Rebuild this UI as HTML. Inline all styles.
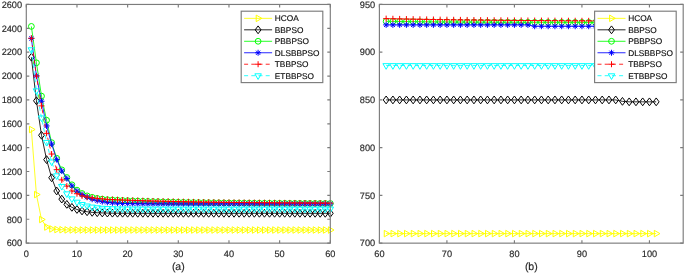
<!DOCTYPE html>
<html><head><meta charset="utf-8"><title>plot</title><style>html,body{margin:0;padding:0;background:#fff}body{width:685px;height:274px;overflow:hidden}</style></head><body>
<svg width="685" height="274" viewBox="0 0 685 274" style="display:block">
<rect width="685" height="274" fill="#fff"/>
<g font-family='"Liberation Sans", Arial, sans-serif' fill="#262626" style="text-rendering:geometricPrecision" stroke="#262626" stroke-width="0.15">
<g>
<path d="M31.37 129.53 L36.43 194.57 L41.50 219.52 L46.57 227.04 L51.63 228.95 L56.70 229.54 L61.77 229.78 L66.83 229.90 L71.90 229.96 L76.97 229.99 L82.03 230.00 L87.10 230.01 L92.17 230.01 L97.23 230.02 L102.30 230.02 L107.37 230.02 L112.43 230.02 L117.50 230.02 L122.57 230.02 L127.63 230.02 L132.70 230.02 L137.77 230.02 L142.83 230.02 L147.90 230.02 L152.97 230.02 L158.03 230.02 L163.10 230.02 L168.17 230.02 L173.23 230.02 L178.30 230.02 L183.37 230.02 L188.43 230.02 L193.50 230.02 L198.57 230.02 L203.63 230.02 L208.70 230.02 L213.77 230.02 L218.83 230.02 L223.90 230.02 L228.97 230.02 L234.03 230.02 L239.10 230.02 L244.17 230.02 L249.23 230.02 L254.30 230.02 L259.37 230.02 L264.43 230.02 L269.50 230.02 L274.57 230.02 L279.63 230.02 L284.70 230.02 L289.77 230.02 L294.83 230.02 L299.90 230.02 L304.97 230.02 L310.03 230.02 L315.10 230.02 L320.17 230.02 L325.23 230.02 L330.30 230.02" fill="none" stroke="#ffff00" stroke-width="0.85"/>
<polygon points="29.47,126.28 29.47,132.78 35.12,129.53" fill="none" stroke="#ffff00" stroke-width="1.0"/>
<polygon points="34.53,191.32 34.53,197.82 40.18,194.57" fill="none" stroke="#ffff00" stroke-width="1.0"/>
<polygon points="39.60,216.27 39.60,222.77 45.25,219.52" fill="none" stroke="#ffff00" stroke-width="1.0"/>
<polygon points="44.67,223.79 44.67,230.29 50.32,227.04" fill="none" stroke="#ffff00" stroke-width="1.0"/>
<polygon points="49.73,225.70 49.73,232.20 55.38,228.95" fill="none" stroke="#ffff00" stroke-width="1.0"/>
<polygon points="54.80,226.29 54.80,232.79 60.45,229.54" fill="none" stroke="#ffff00" stroke-width="1.0"/>
<polygon points="59.87,226.53 59.87,233.03 65.52,229.78" fill="none" stroke="#ffff00" stroke-width="1.0"/>
<polygon points="64.93,226.65 64.93,233.15 70.58,229.90" fill="none" stroke="#ffff00" stroke-width="1.0"/>
<polygon points="70.00,226.71 70.00,233.21 75.65,229.96" fill="none" stroke="#ffff00" stroke-width="1.0"/>
<polygon points="75.07,226.74 75.07,233.24 80.72,229.99" fill="none" stroke="#ffff00" stroke-width="1.0"/>
<polygon points="80.13,226.75 80.13,233.25 85.78,230.00" fill="none" stroke="#ffff00" stroke-width="1.0"/>
<polygon points="85.20,226.76 85.20,233.26 90.85,230.01" fill="none" stroke="#ffff00" stroke-width="1.0"/>
<polygon points="90.27,226.76 90.27,233.26 95.92,230.01" fill="none" stroke="#ffff00" stroke-width="1.0"/>
<polygon points="95.33,226.77 95.33,233.27 100.98,230.02" fill="none" stroke="#ffff00" stroke-width="1.0"/>
<polygon points="100.40,226.77 100.40,233.27 106.05,230.02" fill="none" stroke="#ffff00" stroke-width="1.0"/>
<polygon points="105.47,226.77 105.47,233.27 111.12,230.02" fill="none" stroke="#ffff00" stroke-width="1.0"/>
<polygon points="110.53,226.77 110.53,233.27 116.18,230.02" fill="none" stroke="#ffff00" stroke-width="1.0"/>
<polygon points="115.60,226.77 115.60,233.27 121.25,230.02" fill="none" stroke="#ffff00" stroke-width="1.0"/>
<polygon points="120.67,226.77 120.67,233.27 126.32,230.02" fill="none" stroke="#ffff00" stroke-width="1.0"/>
<polygon points="125.73,226.77 125.73,233.27 131.38,230.02" fill="none" stroke="#ffff00" stroke-width="1.0"/>
<polygon points="130.80,226.77 130.80,233.27 136.45,230.02" fill="none" stroke="#ffff00" stroke-width="1.0"/>
<polygon points="135.87,226.77 135.87,233.27 141.52,230.02" fill="none" stroke="#ffff00" stroke-width="1.0"/>
<polygon points="140.93,226.77 140.93,233.27 146.58,230.02" fill="none" stroke="#ffff00" stroke-width="1.0"/>
<polygon points="146.00,226.77 146.00,233.27 151.65,230.02" fill="none" stroke="#ffff00" stroke-width="1.0"/>
<polygon points="151.07,226.77 151.07,233.27 156.72,230.02" fill="none" stroke="#ffff00" stroke-width="1.0"/>
<polygon points="156.13,226.77 156.13,233.27 161.78,230.02" fill="none" stroke="#ffff00" stroke-width="1.0"/>
<polygon points="161.20,226.77 161.20,233.27 166.85,230.02" fill="none" stroke="#ffff00" stroke-width="1.0"/>
<polygon points="166.27,226.77 166.27,233.27 171.92,230.02" fill="none" stroke="#ffff00" stroke-width="1.0"/>
<polygon points="171.33,226.77 171.33,233.27 176.98,230.02" fill="none" stroke="#ffff00" stroke-width="1.0"/>
<polygon points="176.40,226.77 176.40,233.27 182.05,230.02" fill="none" stroke="#ffff00" stroke-width="1.0"/>
<polygon points="181.47,226.77 181.47,233.27 187.12,230.02" fill="none" stroke="#ffff00" stroke-width="1.0"/>
<polygon points="186.53,226.77 186.53,233.27 192.18,230.02" fill="none" stroke="#ffff00" stroke-width="1.0"/>
<polygon points="191.60,226.77 191.60,233.27 197.25,230.02" fill="none" stroke="#ffff00" stroke-width="1.0"/>
<polygon points="196.67,226.77 196.67,233.27 202.32,230.02" fill="none" stroke="#ffff00" stroke-width="1.0"/>
<polygon points="201.73,226.77 201.73,233.27 207.38,230.02" fill="none" stroke="#ffff00" stroke-width="1.0"/>
<polygon points="206.80,226.77 206.80,233.27 212.45,230.02" fill="none" stroke="#ffff00" stroke-width="1.0"/>
<polygon points="211.87,226.77 211.87,233.27 217.52,230.02" fill="none" stroke="#ffff00" stroke-width="1.0"/>
<polygon points="216.93,226.77 216.93,233.27 222.58,230.02" fill="none" stroke="#ffff00" stroke-width="1.0"/>
<polygon points="222.00,226.77 222.00,233.27 227.65,230.02" fill="none" stroke="#ffff00" stroke-width="1.0"/>
<polygon points="227.07,226.77 227.07,233.27 232.72,230.02" fill="none" stroke="#ffff00" stroke-width="1.0"/>
<polygon points="232.13,226.77 232.13,233.27 237.78,230.02" fill="none" stroke="#ffff00" stroke-width="1.0"/>
<polygon points="237.20,226.77 237.20,233.27 242.85,230.02" fill="none" stroke="#ffff00" stroke-width="1.0"/>
<polygon points="242.27,226.77 242.27,233.27 247.92,230.02" fill="none" stroke="#ffff00" stroke-width="1.0"/>
<polygon points="247.33,226.77 247.33,233.27 252.98,230.02" fill="none" stroke="#ffff00" stroke-width="1.0"/>
<polygon points="252.40,226.77 252.40,233.27 258.05,230.02" fill="none" stroke="#ffff00" stroke-width="1.0"/>
<polygon points="257.47,226.77 257.47,233.27 263.12,230.02" fill="none" stroke="#ffff00" stroke-width="1.0"/>
<polygon points="262.53,226.77 262.53,233.27 268.18,230.02" fill="none" stroke="#ffff00" stroke-width="1.0"/>
<polygon points="267.60,226.77 267.60,233.27 273.25,230.02" fill="none" stroke="#ffff00" stroke-width="1.0"/>
<polygon points="272.67,226.77 272.67,233.27 278.32,230.02" fill="none" stroke="#ffff00" stroke-width="1.0"/>
<polygon points="277.73,226.77 277.73,233.27 283.38,230.02" fill="none" stroke="#ffff00" stroke-width="1.0"/>
<polygon points="282.80,226.77 282.80,233.27 288.45,230.02" fill="none" stroke="#ffff00" stroke-width="1.0"/>
<polygon points="287.87,226.77 287.87,233.27 293.52,230.02" fill="none" stroke="#ffff00" stroke-width="1.0"/>
<polygon points="292.93,226.77 292.93,233.27 298.58,230.02" fill="none" stroke="#ffff00" stroke-width="1.0"/>
<polygon points="298.00,226.77 298.00,233.27 303.65,230.02" fill="none" stroke="#ffff00" stroke-width="1.0"/>
<polygon points="303.07,226.77 303.07,233.27 308.72,230.02" fill="none" stroke="#ffff00" stroke-width="1.0"/>
<polygon points="308.13,226.77 308.13,233.27 313.78,230.02" fill="none" stroke="#ffff00" stroke-width="1.0"/>
<polygon points="313.20,226.77 313.20,233.27 318.85,230.02" fill="none" stroke="#ffff00" stroke-width="1.0"/>
<polygon points="318.27,226.77 318.27,233.27 323.92,230.02" fill="none" stroke="#ffff00" stroke-width="1.0"/>
<polygon points="323.33,226.77 323.33,233.27 328.98,230.02" fill="none" stroke="#ffff00" stroke-width="1.0"/>
<polygon points="328.40,226.77 328.40,233.27 334.05,230.02" fill="none" stroke="#ffff00" stroke-width="1.0"/>
<path d="M31.37 57.20 L36.43 100.77 L41.50 135.26 L46.57 159.61 L51.63 177.75 L56.70 190.99 L61.77 199.11 L66.83 204.36 L71.90 207.34 L76.97 209.49 L82.03 210.93 L87.10 211.76 L92.17 212.36 L97.23 212.72 L102.30 212.95 L107.37 213.07 L112.43 213.19 L117.50 213.23 L122.57 213.25 L127.63 213.27 L132.70 213.28 L137.77 213.29 L142.83 213.30 L147.90 213.30 L152.97 213.31 L158.03 213.31 L163.10 213.31 L168.17 213.31 L173.23 213.31 L178.30 213.31 L183.37 213.31 L188.43 213.31 L193.50 213.31 L198.57 213.31 L203.63 213.31 L208.70 213.31 L213.77 213.31 L218.83 213.31 L223.90 213.31 L228.97 213.31 L234.03 213.31 L239.10 213.31 L244.17 213.31 L249.23 213.31 L254.30 213.31 L259.37 213.31 L264.43 213.31 L269.50 213.31 L274.57 213.31 L279.63 213.31 L284.70 213.31 L289.77 213.31 L294.83 213.31 L299.90 213.31 L304.97 213.31 L310.03 213.31 L315.10 213.31 L320.17 213.31 L325.23 213.31 L330.30 213.31" fill="none" stroke="#000000" stroke-width="0.85"/>
<polygon points="31.37,53.30 34.27,57.20 31.37,61.10 28.47,57.20" fill="none" stroke="#000000" stroke-width="1.0"/>
<polygon points="36.43,96.87 39.33,100.77 36.43,104.67 33.53,100.77" fill="none" stroke="#000000" stroke-width="1.0"/>
<polygon points="41.50,131.36 44.40,135.26 41.50,139.16 38.60,135.26" fill="none" stroke="#000000" stroke-width="1.0"/>
<polygon points="46.57,155.71 49.47,159.61 46.57,163.51 43.67,159.61" fill="none" stroke="#000000" stroke-width="1.0"/>
<polygon points="51.63,173.85 54.53,177.75 51.63,181.65 48.73,177.75" fill="none" stroke="#000000" stroke-width="1.0"/>
<polygon points="56.70,187.09 59.60,190.99 56.70,194.89 53.80,190.99" fill="none" stroke="#000000" stroke-width="1.0"/>
<polygon points="61.77,195.21 64.67,199.11 61.77,203.01 58.87,199.11" fill="none" stroke="#000000" stroke-width="1.0"/>
<polygon points="66.83,200.46 69.73,204.36 66.83,208.26 63.93,204.36" fill="none" stroke="#000000" stroke-width="1.0"/>
<polygon points="71.90,203.44 74.80,207.34 71.90,211.25 69.00,207.34" fill="none" stroke="#000000" stroke-width="1.0"/>
<polygon points="76.97,205.59 79.87,209.49 76.97,213.39 74.07,209.49" fill="none" stroke="#000000" stroke-width="1.0"/>
<polygon points="82.03,207.03 84.93,210.93 82.03,214.83 79.13,210.93" fill="none" stroke="#000000" stroke-width="1.0"/>
<polygon points="87.10,207.86 90.00,211.76 87.10,215.66 84.20,211.76" fill="none" stroke="#000000" stroke-width="1.0"/>
<polygon points="92.17,208.46 95.07,212.36 92.17,216.26 89.27,212.36" fill="none" stroke="#000000" stroke-width="1.0"/>
<polygon points="97.23,208.82 100.13,212.72 97.23,216.62 94.33,212.72" fill="none" stroke="#000000" stroke-width="1.0"/>
<polygon points="102.30,209.05 105.20,212.95 102.30,216.85 99.40,212.95" fill="none" stroke="#000000" stroke-width="1.0"/>
<polygon points="107.37,209.17 110.27,213.07 107.37,216.97 104.47,213.07" fill="none" stroke="#000000" stroke-width="1.0"/>
<polygon points="112.43,209.29 115.33,213.19 112.43,217.09 109.53,213.19" fill="none" stroke="#000000" stroke-width="1.0"/>
<polygon points="117.50,209.33 120.40,213.23 117.50,217.13 114.60,213.23" fill="none" stroke="#000000" stroke-width="1.0"/>
<polygon points="122.57,209.35 125.47,213.25 122.57,217.15 119.67,213.25" fill="none" stroke="#000000" stroke-width="1.0"/>
<polygon points="127.63,209.37 130.53,213.27 127.63,217.17 124.73,213.27" fill="none" stroke="#000000" stroke-width="1.0"/>
<polygon points="132.70,209.38 135.60,213.28 132.70,217.18 129.80,213.28" fill="none" stroke="#000000" stroke-width="1.0"/>
<polygon points="137.77,209.39 140.67,213.29 137.77,217.19 134.87,213.29" fill="none" stroke="#000000" stroke-width="1.0"/>
<polygon points="142.83,209.40 145.73,213.30 142.83,217.20 139.93,213.30" fill="none" stroke="#000000" stroke-width="1.0"/>
<polygon points="147.90,209.40 150.80,213.30 147.90,217.20 145.00,213.30" fill="none" stroke="#000000" stroke-width="1.0"/>
<polygon points="152.97,209.41 155.87,213.31 152.97,217.21 150.07,213.31" fill="none" stroke="#000000" stroke-width="1.0"/>
<polygon points="158.03,209.41 160.93,213.31 158.03,217.21 155.13,213.31" fill="none" stroke="#000000" stroke-width="1.0"/>
<polygon points="163.10,209.41 166.00,213.31 163.10,217.21 160.20,213.31" fill="none" stroke="#000000" stroke-width="1.0"/>
<polygon points="168.17,209.41 171.07,213.31 168.17,217.21 165.27,213.31" fill="none" stroke="#000000" stroke-width="1.0"/>
<polygon points="173.23,209.41 176.13,213.31 173.23,217.21 170.33,213.31" fill="none" stroke="#000000" stroke-width="1.0"/>
<polygon points="178.30,209.41 181.20,213.31 178.30,217.21 175.40,213.31" fill="none" stroke="#000000" stroke-width="1.0"/>
<polygon points="183.37,209.41 186.27,213.31 183.37,217.21 180.47,213.31" fill="none" stroke="#000000" stroke-width="1.0"/>
<polygon points="188.43,209.41 191.33,213.31 188.43,217.21 185.53,213.31" fill="none" stroke="#000000" stroke-width="1.0"/>
<polygon points="193.50,209.41 196.40,213.31 193.50,217.21 190.60,213.31" fill="none" stroke="#000000" stroke-width="1.0"/>
<polygon points="198.57,209.41 201.47,213.31 198.57,217.21 195.67,213.31" fill="none" stroke="#000000" stroke-width="1.0"/>
<polygon points="203.63,209.41 206.53,213.31 203.63,217.21 200.73,213.31" fill="none" stroke="#000000" stroke-width="1.0"/>
<polygon points="208.70,209.41 211.60,213.31 208.70,217.21 205.80,213.31" fill="none" stroke="#000000" stroke-width="1.0"/>
<polygon points="213.77,209.41 216.67,213.31 213.77,217.21 210.87,213.31" fill="none" stroke="#000000" stroke-width="1.0"/>
<polygon points="218.83,209.41 221.73,213.31 218.83,217.21 215.93,213.31" fill="none" stroke="#000000" stroke-width="1.0"/>
<polygon points="223.90,209.41 226.80,213.31 223.90,217.21 221.00,213.31" fill="none" stroke="#000000" stroke-width="1.0"/>
<polygon points="228.97,209.41 231.87,213.31 228.97,217.21 226.07,213.31" fill="none" stroke="#000000" stroke-width="1.0"/>
<polygon points="234.03,209.41 236.93,213.31 234.03,217.21 231.13,213.31" fill="none" stroke="#000000" stroke-width="1.0"/>
<polygon points="239.10,209.41 242.00,213.31 239.10,217.21 236.20,213.31" fill="none" stroke="#000000" stroke-width="1.0"/>
<polygon points="244.17,209.41 247.07,213.31 244.17,217.21 241.27,213.31" fill="none" stroke="#000000" stroke-width="1.0"/>
<polygon points="249.23,209.41 252.13,213.31 249.23,217.21 246.33,213.31" fill="none" stroke="#000000" stroke-width="1.0"/>
<polygon points="254.30,209.41 257.20,213.31 254.30,217.21 251.40,213.31" fill="none" stroke="#000000" stroke-width="1.0"/>
<polygon points="259.37,209.41 262.27,213.31 259.37,217.21 256.47,213.31" fill="none" stroke="#000000" stroke-width="1.0"/>
<polygon points="264.43,209.41 267.33,213.31 264.43,217.21 261.53,213.31" fill="none" stroke="#000000" stroke-width="1.0"/>
<polygon points="269.50,209.41 272.40,213.31 269.50,217.21 266.60,213.31" fill="none" stroke="#000000" stroke-width="1.0"/>
<polygon points="274.57,209.41 277.47,213.31 274.57,217.21 271.67,213.31" fill="none" stroke="#000000" stroke-width="1.0"/>
<polygon points="279.63,209.41 282.53,213.31 279.63,217.21 276.73,213.31" fill="none" stroke="#000000" stroke-width="1.0"/>
<polygon points="284.70,209.41 287.60,213.31 284.70,217.21 281.80,213.31" fill="none" stroke="#000000" stroke-width="1.0"/>
<polygon points="289.77,209.41 292.67,213.31 289.77,217.21 286.87,213.31" fill="none" stroke="#000000" stroke-width="1.0"/>
<polygon points="294.83,209.41 297.73,213.31 294.83,217.21 291.93,213.31" fill="none" stroke="#000000" stroke-width="1.0"/>
<polygon points="299.90,209.41 302.80,213.31 299.90,217.21 297.00,213.31" fill="none" stroke="#000000" stroke-width="1.0"/>
<polygon points="304.97,209.41 307.87,213.31 304.97,217.21 302.07,213.31" fill="none" stroke="#000000" stroke-width="1.0"/>
<polygon points="310.03,209.41 312.93,213.31 310.03,217.21 307.13,213.31" fill="none" stroke="#000000" stroke-width="1.0"/>
<polygon points="315.10,209.41 318.00,213.31 315.10,217.21 312.20,213.31" fill="none" stroke="#000000" stroke-width="1.0"/>
<polygon points="320.17,209.41 323.07,213.31 320.17,217.21 317.27,213.31" fill="none" stroke="#000000" stroke-width="1.0"/>
<polygon points="325.23,209.41 328.13,213.31 325.23,217.21 322.33,213.31" fill="none" stroke="#000000" stroke-width="1.0"/>
<polygon points="330.30,209.41 333.20,213.31 330.30,217.21 327.40,213.31" fill="none" stroke="#000000" stroke-width="1.0"/>
<path d="M31.37 26.41 L36.43 62.81 L41.50 96.11 L46.57 120.22 L51.63 142.66 L56.70 158.29 L61.77 169.87 L66.83 177.51 L71.90 184.79 L76.97 190.16 L82.03 193.50 L87.10 195.89 L92.17 197.32 L97.23 198.39 L102.30 199.11 L107.37 199.71 L112.43 199.98 L117.50 200.23 L122.57 200.47 L127.63 200.69 L132.70 200.89 L137.77 201.08 L142.83 201.26 L147.90 201.42 L152.97 201.57 L158.03 201.72 L163.10 201.85 L168.17 201.97 L173.23 202.09 L178.30 202.20 L183.37 202.30 L188.43 202.39 L193.50 202.48 L198.57 202.56 L203.63 202.63 L208.70 202.70 L213.77 202.77 L218.83 202.83 L223.90 202.88 L228.97 202.94 L234.03 202.98 L239.10 203.03 L244.17 203.07 L249.23 203.11 L254.30 203.15 L259.37 203.18 L264.43 203.21 L269.50 203.24 L274.57 203.27 L279.63 203.30 L284.70 203.32 L289.77 203.34 L294.83 203.36 L299.90 203.38 L304.97 203.40 L310.03 203.42 L315.10 203.43 L320.17 203.45 L325.23 203.46 L330.30 203.48" fill="none" stroke="#00ff00" stroke-width="0.85"/>
<circle cx="31.37" cy="26.41" r="2.9" fill="none" stroke="#00ff00" stroke-width="1.0"/>
<circle cx="36.43" cy="62.81" r="2.9" fill="none" stroke="#00ff00" stroke-width="1.0"/>
<circle cx="41.50" cy="96.11" r="2.9" fill="none" stroke="#00ff00" stroke-width="1.0"/>
<circle cx="46.57" cy="120.22" r="2.9" fill="none" stroke="#00ff00" stroke-width="1.0"/>
<circle cx="51.63" cy="142.66" r="2.9" fill="none" stroke="#00ff00" stroke-width="1.0"/>
<circle cx="56.70" cy="158.29" r="2.9" fill="none" stroke="#00ff00" stroke-width="1.0"/>
<circle cx="61.77" cy="169.87" r="2.9" fill="none" stroke="#00ff00" stroke-width="1.0"/>
<circle cx="66.83" cy="177.51" r="2.9" fill="none" stroke="#00ff00" stroke-width="1.0"/>
<circle cx="71.90" cy="184.79" r="2.9" fill="none" stroke="#00ff00" stroke-width="1.0"/>
<circle cx="76.97" cy="190.16" r="2.9" fill="none" stroke="#00ff00" stroke-width="1.0"/>
<circle cx="82.03" cy="193.50" r="2.9" fill="none" stroke="#00ff00" stroke-width="1.0"/>
<circle cx="87.10" cy="195.89" r="2.9" fill="none" stroke="#00ff00" stroke-width="1.0"/>
<circle cx="92.17" cy="197.32" r="2.9" fill="none" stroke="#00ff00" stroke-width="1.0"/>
<circle cx="97.23" cy="198.39" r="2.9" fill="none" stroke="#00ff00" stroke-width="1.0"/>
<circle cx="102.30" cy="199.11" r="2.9" fill="none" stroke="#00ff00" stroke-width="1.0"/>
<circle cx="107.37" cy="199.71" r="2.9" fill="none" stroke="#00ff00" stroke-width="1.0"/>
<circle cx="112.43" cy="199.98" r="2.9" fill="none" stroke="#00ff00" stroke-width="1.0"/>
<circle cx="117.50" cy="200.23" r="2.9" fill="none" stroke="#00ff00" stroke-width="1.0"/>
<circle cx="122.57" cy="200.47" r="2.9" fill="none" stroke="#00ff00" stroke-width="1.0"/>
<circle cx="127.63" cy="200.69" r="2.9" fill="none" stroke="#00ff00" stroke-width="1.0"/>
<circle cx="132.70" cy="200.89" r="2.9" fill="none" stroke="#00ff00" stroke-width="1.0"/>
<circle cx="137.77" cy="201.08" r="2.9" fill="none" stroke="#00ff00" stroke-width="1.0"/>
<circle cx="142.83" cy="201.26" r="2.9" fill="none" stroke="#00ff00" stroke-width="1.0"/>
<circle cx="147.90" cy="201.42" r="2.9" fill="none" stroke="#00ff00" stroke-width="1.0"/>
<circle cx="152.97" cy="201.57" r="2.9" fill="none" stroke="#00ff00" stroke-width="1.0"/>
<circle cx="158.03" cy="201.72" r="2.9" fill="none" stroke="#00ff00" stroke-width="1.0"/>
<circle cx="163.10" cy="201.85" r="2.9" fill="none" stroke="#00ff00" stroke-width="1.0"/>
<circle cx="168.17" cy="201.97" r="2.9" fill="none" stroke="#00ff00" stroke-width="1.0"/>
<circle cx="173.23" cy="202.09" r="2.9" fill="none" stroke="#00ff00" stroke-width="1.0"/>
<circle cx="178.30" cy="202.20" r="2.9" fill="none" stroke="#00ff00" stroke-width="1.0"/>
<circle cx="183.37" cy="202.30" r="2.9" fill="none" stroke="#00ff00" stroke-width="1.0"/>
<circle cx="188.43" cy="202.39" r="2.9" fill="none" stroke="#00ff00" stroke-width="1.0"/>
<circle cx="193.50" cy="202.48" r="2.9" fill="none" stroke="#00ff00" stroke-width="1.0"/>
<circle cx="198.57" cy="202.56" r="2.9" fill="none" stroke="#00ff00" stroke-width="1.0"/>
<circle cx="203.63" cy="202.63" r="2.9" fill="none" stroke="#00ff00" stroke-width="1.0"/>
<circle cx="208.70" cy="202.70" r="2.9" fill="none" stroke="#00ff00" stroke-width="1.0"/>
<circle cx="213.77" cy="202.77" r="2.9" fill="none" stroke="#00ff00" stroke-width="1.0"/>
<circle cx="218.83" cy="202.83" r="2.9" fill="none" stroke="#00ff00" stroke-width="1.0"/>
<circle cx="223.90" cy="202.88" r="2.9" fill="none" stroke="#00ff00" stroke-width="1.0"/>
<circle cx="228.97" cy="202.94" r="2.9" fill="none" stroke="#00ff00" stroke-width="1.0"/>
<circle cx="234.03" cy="202.98" r="2.9" fill="none" stroke="#00ff00" stroke-width="1.0"/>
<circle cx="239.10" cy="203.03" r="2.9" fill="none" stroke="#00ff00" stroke-width="1.0"/>
<circle cx="244.17" cy="203.07" r="2.9" fill="none" stroke="#00ff00" stroke-width="1.0"/>
<circle cx="249.23" cy="203.11" r="2.9" fill="none" stroke="#00ff00" stroke-width="1.0"/>
<circle cx="254.30" cy="203.15" r="2.9" fill="none" stroke="#00ff00" stroke-width="1.0"/>
<circle cx="259.37" cy="203.18" r="2.9" fill="none" stroke="#00ff00" stroke-width="1.0"/>
<circle cx="264.43" cy="203.21" r="2.9" fill="none" stroke="#00ff00" stroke-width="1.0"/>
<circle cx="269.50" cy="203.24" r="2.9" fill="none" stroke="#00ff00" stroke-width="1.0"/>
<circle cx="274.57" cy="203.27" r="2.9" fill="none" stroke="#00ff00" stroke-width="1.0"/>
<circle cx="279.63" cy="203.30" r="2.9" fill="none" stroke="#00ff00" stroke-width="1.0"/>
<circle cx="284.70" cy="203.32" r="2.9" fill="none" stroke="#00ff00" stroke-width="1.0"/>
<circle cx="289.77" cy="203.34" r="2.9" fill="none" stroke="#00ff00" stroke-width="1.0"/>
<circle cx="294.83" cy="203.36" r="2.9" fill="none" stroke="#00ff00" stroke-width="1.0"/>
<circle cx="299.90" cy="203.38" r="2.9" fill="none" stroke="#00ff00" stroke-width="1.0"/>
<circle cx="304.97" cy="203.40" r="2.9" fill="none" stroke="#00ff00" stroke-width="1.0"/>
<circle cx="310.03" cy="203.42" r="2.9" fill="none" stroke="#00ff00" stroke-width="1.0"/>
<circle cx="315.10" cy="203.43" r="2.9" fill="none" stroke="#00ff00" stroke-width="1.0"/>
<circle cx="320.17" cy="203.45" r="2.9" fill="none" stroke="#00ff00" stroke-width="1.0"/>
<circle cx="325.23" cy="203.46" r="2.9" fill="none" stroke="#00ff00" stroke-width="1.0"/>
<circle cx="330.30" cy="203.48" r="2.9" fill="none" stroke="#00ff00" stroke-width="1.0"/>
<path d="M31.37 38.46 L36.43 75.82 L41.50 101.24 L46.57 125.95 L51.63 144.09 L56.70 159.61 L61.77 171.06 L66.83 178.58 L71.90 185.86 L76.97 191.23 L82.03 194.57 L87.10 197.20 L92.17 199.23 L97.23 200.66 L102.30 201.62 L107.37 202.33 L112.43 202.81 L117.50 203.17 L122.57 203.41 L127.63 203.53 L132.70 203.61 L137.77 203.67 L142.83 203.72 L147.90 203.77 L152.97 203.80 L158.03 203.83 L163.10 203.85 L168.17 203.86 L173.23 203.88 L178.30 203.89 L183.37 203.90 L188.43 203.90 L193.50 203.91 L198.57 203.91 L203.63 203.92 L208.70 203.92 L213.77 203.92 L218.83 203.92 L223.90 203.93 L228.97 203.93 L234.03 203.93 L239.10 203.93 L244.17 203.93 L249.23 203.93 L254.30 203.93 L259.37 203.93 L264.43 203.93 L269.50 203.93 L274.57 203.93 L279.63 203.93 L284.70 203.93 L289.77 203.93 L294.83 203.93 L299.90 203.93 L304.97 203.93 L310.03 203.93 L315.10 203.93 L320.17 203.93 L325.23 203.93 L330.30 203.93" fill="none" stroke="#0000ff" stroke-width="0.85"/>
<path d="M28.37 38.46H34.37M31.37 35.46V41.46M29.27 36.36L33.47 40.56M29.27 40.56L33.47 36.36" fill="none" stroke="#0000ff" stroke-width="1.0"/>
<path d="M33.43 75.82H39.43M36.43 72.82V78.82M34.33 73.72L38.53 77.92M34.33 77.92L38.53 73.72" fill="none" stroke="#0000ff" stroke-width="1.0"/>
<path d="M38.50 101.24H44.50M41.50 98.24V104.24M39.40 99.14L43.60 103.34M39.40 103.34L43.60 99.14" fill="none" stroke="#0000ff" stroke-width="1.0"/>
<path d="M43.57 125.95H49.57M46.57 122.95V128.95M44.47 123.85L48.67 128.05M44.47 128.05L48.67 123.85" fill="none" stroke="#0000ff" stroke-width="1.0"/>
<path d="M48.63 144.09H54.63M51.63 141.09V147.09M49.53 141.99L53.73 146.19M49.53 146.19L53.73 141.99" fill="none" stroke="#0000ff" stroke-width="1.0"/>
<path d="M53.70 159.61H59.70M56.70 156.61V162.61M54.60 157.51L58.80 161.71M54.60 161.71L58.80 157.51" fill="none" stroke="#0000ff" stroke-width="1.0"/>
<path d="M58.77 171.06H64.77M61.77 168.06V174.06M59.67 168.96L63.87 173.16M59.67 173.16L63.87 168.96" fill="none" stroke="#0000ff" stroke-width="1.0"/>
<path d="M63.83 178.58H69.83M66.83 175.58V181.58M64.73 176.48L68.93 180.68M64.73 180.68L68.93 176.48" fill="none" stroke="#0000ff" stroke-width="1.0"/>
<path d="M68.90 185.86H74.90M71.90 182.86V188.86M69.80 183.76L74.00 187.96M69.80 187.96L74.00 183.76" fill="none" stroke="#0000ff" stroke-width="1.0"/>
<path d="M73.97 191.23H79.97M76.97 188.23V194.23M74.87 189.13L79.07 193.33M74.87 193.33L79.07 189.13" fill="none" stroke="#0000ff" stroke-width="1.0"/>
<path d="M79.03 194.57H85.03M82.03 191.57V197.57M79.93 192.47L84.13 196.67M79.93 196.67L84.13 192.47" fill="none" stroke="#0000ff" stroke-width="1.0"/>
<path d="M84.10 197.20H90.10M87.10 194.20V200.20M85.00 195.10L89.20 199.30M85.00 199.30L89.20 195.10" fill="none" stroke="#0000ff" stroke-width="1.0"/>
<path d="M89.17 199.23H95.17M92.17 196.23V202.23M90.07 197.13L94.27 201.33M90.07 201.33L94.27 197.13" fill="none" stroke="#0000ff" stroke-width="1.0"/>
<path d="M94.23 200.66H100.23M97.23 197.66V203.66M95.13 198.56L99.33 202.76M95.13 202.76L99.33 198.56" fill="none" stroke="#0000ff" stroke-width="1.0"/>
<path d="M99.30 201.62H105.30M102.30 198.62V204.62M100.20 199.52L104.40 203.72M100.20 203.72L104.40 199.52" fill="none" stroke="#0000ff" stroke-width="1.0"/>
<path d="M104.37 202.33H110.37M107.37 199.33V205.33M105.27 200.23L109.47 204.43M105.27 204.43L109.47 200.23" fill="none" stroke="#0000ff" stroke-width="1.0"/>
<path d="M109.43 202.81H115.43M112.43 199.81V205.81M110.33 200.71L114.53 204.91M110.33 204.91L114.53 200.71" fill="none" stroke="#0000ff" stroke-width="1.0"/>
<path d="M114.50 203.17H120.50M117.50 200.17V206.17M115.40 201.07L119.60 205.27M115.40 205.27L119.60 201.07" fill="none" stroke="#0000ff" stroke-width="1.0"/>
<path d="M119.57 203.41H125.57M122.57 200.41V206.41M120.47 201.31L124.67 205.51M120.47 205.51L124.67 201.31" fill="none" stroke="#0000ff" stroke-width="1.0"/>
<path d="M124.63 203.53H130.63M127.63 200.53V206.53M125.53 201.43L129.73 205.63M125.53 205.63L129.73 201.43" fill="none" stroke="#0000ff" stroke-width="1.0"/>
<path d="M129.70 203.61H135.70M132.70 200.61V206.61M130.60 201.51L134.80 205.71M130.60 205.71L134.80 201.51" fill="none" stroke="#0000ff" stroke-width="1.0"/>
<path d="M134.77 203.67H140.77M137.77 200.67V206.67M135.67 201.57L139.87 205.77M135.67 205.77L139.87 201.57" fill="none" stroke="#0000ff" stroke-width="1.0"/>
<path d="M139.83 203.72H145.83M142.83 200.72V206.72M140.73 201.62L144.93 205.82M140.73 205.82L144.93 201.62" fill="none" stroke="#0000ff" stroke-width="1.0"/>
<path d="M144.90 203.77H150.90M147.90 200.77V206.77M145.80 201.67L150.00 205.87M145.80 205.87L150.00 201.67" fill="none" stroke="#0000ff" stroke-width="1.0"/>
<path d="M149.97 203.80H155.97M152.97 200.80V206.80M150.87 201.70L155.07 205.90M150.87 205.90L155.07 201.70" fill="none" stroke="#0000ff" stroke-width="1.0"/>
<path d="M155.03 203.83H161.03M158.03 200.83V206.83M155.93 201.73L160.13 205.93M155.93 205.93L160.13 201.73" fill="none" stroke="#0000ff" stroke-width="1.0"/>
<path d="M160.10 203.85H166.10M163.10 200.85V206.85M161.00 201.75L165.20 205.95M161.00 205.95L165.20 201.75" fill="none" stroke="#0000ff" stroke-width="1.0"/>
<path d="M165.17 203.86H171.17M168.17 200.86V206.86M166.07 201.76L170.27 205.96M166.07 205.96L170.27 201.76" fill="none" stroke="#0000ff" stroke-width="1.0"/>
<path d="M170.23 203.88H176.23M173.23 200.88V206.88M171.13 201.78L175.33 205.98M171.13 205.98L175.33 201.78" fill="none" stroke="#0000ff" stroke-width="1.0"/>
<path d="M175.30 203.89H181.30M178.30 200.89V206.89M176.20 201.79L180.40 205.99M176.20 205.99L180.40 201.79" fill="none" stroke="#0000ff" stroke-width="1.0"/>
<path d="M180.37 203.90H186.37M183.37 200.90V206.90M181.27 201.80L185.47 206.00M181.27 206.00L185.47 201.80" fill="none" stroke="#0000ff" stroke-width="1.0"/>
<path d="M185.43 203.90H191.43M188.43 200.90V206.90M186.33 201.80L190.53 206.00M186.33 206.00L190.53 201.80" fill="none" stroke="#0000ff" stroke-width="1.0"/>
<path d="M190.50 203.91H196.50M193.50 200.91V206.91M191.40 201.81L195.60 206.01M191.40 206.01L195.60 201.81" fill="none" stroke="#0000ff" stroke-width="1.0"/>
<path d="M195.57 203.91H201.57M198.57 200.91V206.91M196.47 201.81L200.67 206.01M196.47 206.01L200.67 201.81" fill="none" stroke="#0000ff" stroke-width="1.0"/>
<path d="M200.63 203.92H206.63M203.63 200.92V206.92M201.53 201.82L205.73 206.02M201.53 206.02L205.73 201.82" fill="none" stroke="#0000ff" stroke-width="1.0"/>
<path d="M205.70 203.92H211.70M208.70 200.92V206.92M206.60 201.82L210.80 206.02M206.60 206.02L210.80 201.82" fill="none" stroke="#0000ff" stroke-width="1.0"/>
<path d="M210.77 203.92H216.77M213.77 200.92V206.92M211.67 201.82L215.87 206.02M211.67 206.02L215.87 201.82" fill="none" stroke="#0000ff" stroke-width="1.0"/>
<path d="M215.83 203.92H221.83M218.83 200.92V206.92M216.73 201.82L220.93 206.02M216.73 206.02L220.93 201.82" fill="none" stroke="#0000ff" stroke-width="1.0"/>
<path d="M220.90 203.93H226.90M223.90 200.93V206.93M221.80 201.83L226.00 206.03M221.80 206.03L226.00 201.83" fill="none" stroke="#0000ff" stroke-width="1.0"/>
<path d="M225.97 203.93H231.97M228.97 200.93V206.93M226.87 201.83L231.07 206.03M226.87 206.03L231.07 201.83" fill="none" stroke="#0000ff" stroke-width="1.0"/>
<path d="M231.03 203.93H237.03M234.03 200.93V206.93M231.93 201.83L236.13 206.03M231.93 206.03L236.13 201.83" fill="none" stroke="#0000ff" stroke-width="1.0"/>
<path d="M236.10 203.93H242.10M239.10 200.93V206.93M237.00 201.83L241.20 206.03M237.00 206.03L241.20 201.83" fill="none" stroke="#0000ff" stroke-width="1.0"/>
<path d="M241.17 203.93H247.17M244.17 200.93V206.93M242.07 201.83L246.27 206.03M242.07 206.03L246.27 201.83" fill="none" stroke="#0000ff" stroke-width="1.0"/>
<path d="M246.23 203.93H252.23M249.23 200.93V206.93M247.13 201.83L251.33 206.03M247.13 206.03L251.33 201.83" fill="none" stroke="#0000ff" stroke-width="1.0"/>
<path d="M251.30 203.93H257.30M254.30 200.93V206.93M252.20 201.83L256.40 206.03M252.20 206.03L256.40 201.83" fill="none" stroke="#0000ff" stroke-width="1.0"/>
<path d="M256.37 203.93H262.37M259.37 200.93V206.93M257.27 201.83L261.47 206.03M257.27 206.03L261.47 201.83" fill="none" stroke="#0000ff" stroke-width="1.0"/>
<path d="M261.43 203.93H267.43M264.43 200.93V206.93M262.33 201.83L266.53 206.03M262.33 206.03L266.53 201.83" fill="none" stroke="#0000ff" stroke-width="1.0"/>
<path d="M266.50 203.93H272.50M269.50 200.93V206.93M267.40 201.83L271.60 206.03M267.40 206.03L271.60 201.83" fill="none" stroke="#0000ff" stroke-width="1.0"/>
<path d="M271.57 203.93H277.57M274.57 200.93V206.93M272.47 201.83L276.67 206.03M272.47 206.03L276.67 201.83" fill="none" stroke="#0000ff" stroke-width="1.0"/>
<path d="M276.63 203.93H282.63M279.63 200.93V206.93M277.53 201.83L281.73 206.03M277.53 206.03L281.73 201.83" fill="none" stroke="#0000ff" stroke-width="1.0"/>
<path d="M281.70 203.93H287.70M284.70 200.93V206.93M282.60 201.83L286.80 206.03M282.60 206.03L286.80 201.83" fill="none" stroke="#0000ff" stroke-width="1.0"/>
<path d="M286.77 203.93H292.77M289.77 200.93V206.93M287.67 201.83L291.87 206.03M287.67 206.03L291.87 201.83" fill="none" stroke="#0000ff" stroke-width="1.0"/>
<path d="M291.83 203.93H297.83M294.83 200.93V206.93M292.73 201.83L296.93 206.03M292.73 206.03L296.93 201.83" fill="none" stroke="#0000ff" stroke-width="1.0"/>
<path d="M296.90 203.93H302.90M299.90 200.93V206.93M297.80 201.83L302.00 206.03M297.80 206.03L302.00 201.83" fill="none" stroke="#0000ff" stroke-width="1.0"/>
<path d="M301.97 203.93H307.97M304.97 200.93V206.93M302.87 201.83L307.07 206.03M302.87 206.03L307.07 201.83" fill="none" stroke="#0000ff" stroke-width="1.0"/>
<path d="M307.03 203.93H313.03M310.03 200.93V206.93M307.93 201.83L312.13 206.03M307.93 206.03L312.13 201.83" fill="none" stroke="#0000ff" stroke-width="1.0"/>
<path d="M312.10 203.93H318.10M315.10 200.93V206.93M313.00 201.83L317.20 206.03M313.00 206.03L317.20 201.83" fill="none" stroke="#0000ff" stroke-width="1.0"/>
<path d="M317.17 203.93H323.17M320.17 200.93V206.93M318.07 201.83L322.27 206.03M318.07 206.03L322.27 201.83" fill="none" stroke="#0000ff" stroke-width="1.0"/>
<path d="M322.23 203.93H328.23M325.23 200.93V206.93M323.13 201.83L327.33 206.03M323.13 206.03L327.33 201.83" fill="none" stroke="#0000ff" stroke-width="1.0"/>
<path d="M327.30 203.93H333.30M330.30 200.93V206.93M328.20 201.83L332.40 206.03M328.20 206.03L332.40 201.83" fill="none" stroke="#0000ff" stroke-width="1.0"/>
<path d="M31.37 38.23 L36.43 76.06 L41.50 105.90 L46.57 133.35 L51.63 154.00 L56.70 169.63 L61.77 179.89 L66.83 186.10 L71.90 190.99 L76.97 193.74 L82.03 195.89 L87.10 197.08 L92.17 197.80 L97.23 198.39 L102.30 198.87 L107.37 199.35 L112.43 199.57 L117.50 199.78 L122.57 199.98 L127.63 200.17 L132.70 200.35 L137.77 200.52 L142.83 200.68 L147.90 200.83 L152.97 200.98 L158.03 201.11 L163.10 201.24 L168.17 201.36 L173.23 201.48 L178.30 201.59 L183.37 201.69 L188.43 201.79 L193.50 201.88 L198.57 201.97 L203.63 202.05 L208.70 202.13 L213.77 202.20 L218.83 202.27 L223.90 202.34 L228.97 202.40 L234.03 202.46 L239.10 202.51 L244.17 202.57 L249.23 202.62 L254.30 202.66 L259.37 202.71 L264.43 202.75 L269.50 202.79 L274.57 202.83 L279.63 202.86 L284.70 202.90 L289.77 202.93 L294.83 202.96 L299.90 202.99 L304.97 203.02 L310.03 203.04 L315.10 203.07 L320.17 203.09 L325.23 203.11 L330.30 203.13" fill="none" stroke="#ff0000" stroke-width="0.85" stroke-dasharray="4 3.2"/>
<path d="M28.37 38.23H34.37M31.37 35.23V41.23" fill="none" stroke="#ff0000" stroke-width="1.0"/>
<path d="M33.43 76.06H39.43M36.43 73.06V79.06" fill="none" stroke="#ff0000" stroke-width="1.0"/>
<path d="M38.50 105.90H44.50M41.50 102.90V108.90" fill="none" stroke="#ff0000" stroke-width="1.0"/>
<path d="M43.57 133.35H49.57M46.57 130.35V136.35" fill="none" stroke="#ff0000" stroke-width="1.0"/>
<path d="M48.63 154.00H54.63M51.63 151.00V157.00" fill="none" stroke="#ff0000" stroke-width="1.0"/>
<path d="M53.70 169.63H59.70M56.70 166.63V172.63" fill="none" stroke="#ff0000" stroke-width="1.0"/>
<path d="M58.77 179.89H64.77M61.77 176.89V182.89" fill="none" stroke="#ff0000" stroke-width="1.0"/>
<path d="M63.83 186.10H69.83M66.83 183.10V189.10" fill="none" stroke="#ff0000" stroke-width="1.0"/>
<path d="M68.90 190.99H74.90M71.90 187.99V193.99" fill="none" stroke="#ff0000" stroke-width="1.0"/>
<path d="M73.97 193.74H79.97M76.97 190.74V196.74" fill="none" stroke="#ff0000" stroke-width="1.0"/>
<path d="M79.03 195.89H85.03M82.03 192.89V198.89" fill="none" stroke="#ff0000" stroke-width="1.0"/>
<path d="M84.10 197.08H90.10M87.10 194.08V200.08" fill="none" stroke="#ff0000" stroke-width="1.0"/>
<path d="M89.17 197.80H95.17M92.17 194.80V200.80" fill="none" stroke="#ff0000" stroke-width="1.0"/>
<path d="M94.23 198.39H100.23M97.23 195.39V201.39" fill="none" stroke="#ff0000" stroke-width="1.0"/>
<path d="M99.30 198.87H105.30M102.30 195.87V201.87" fill="none" stroke="#ff0000" stroke-width="1.0"/>
<path d="M104.37 199.35H110.37M107.37 196.35V202.35" fill="none" stroke="#ff0000" stroke-width="1.0"/>
<path d="M109.43 199.57H115.43M112.43 196.57V202.57" fill="none" stroke="#ff0000" stroke-width="1.0"/>
<path d="M114.50 199.78H120.50M117.50 196.78V202.78" fill="none" stroke="#ff0000" stroke-width="1.0"/>
<path d="M119.57 199.98H125.57M122.57 196.98V202.98" fill="none" stroke="#ff0000" stroke-width="1.0"/>
<path d="M124.63 200.17H130.63M127.63 197.17V203.17" fill="none" stroke="#ff0000" stroke-width="1.0"/>
<path d="M129.70 200.35H135.70M132.70 197.35V203.35" fill="none" stroke="#ff0000" stroke-width="1.0"/>
<path d="M134.77 200.52H140.77M137.77 197.52V203.52" fill="none" stroke="#ff0000" stroke-width="1.0"/>
<path d="M139.83 200.68H145.83M142.83 197.68V203.68" fill="none" stroke="#ff0000" stroke-width="1.0"/>
<path d="M144.90 200.83H150.90M147.90 197.83V203.83" fill="none" stroke="#ff0000" stroke-width="1.0"/>
<path d="M149.97 200.98H155.97M152.97 197.98V203.98" fill="none" stroke="#ff0000" stroke-width="1.0"/>
<path d="M155.03 201.11H161.03M158.03 198.11V204.11" fill="none" stroke="#ff0000" stroke-width="1.0"/>
<path d="M160.10 201.24H166.10M163.10 198.24V204.24" fill="none" stroke="#ff0000" stroke-width="1.0"/>
<path d="M165.17 201.36H171.17M168.17 198.36V204.36" fill="none" stroke="#ff0000" stroke-width="1.0"/>
<path d="M170.23 201.48H176.23M173.23 198.48V204.48" fill="none" stroke="#ff0000" stroke-width="1.0"/>
<path d="M175.30 201.59H181.30M178.30 198.59V204.59" fill="none" stroke="#ff0000" stroke-width="1.0"/>
<path d="M180.37 201.69H186.37M183.37 198.69V204.69" fill="none" stroke="#ff0000" stroke-width="1.0"/>
<path d="M185.43 201.79H191.43M188.43 198.79V204.79" fill="none" stroke="#ff0000" stroke-width="1.0"/>
<path d="M190.50 201.88H196.50M193.50 198.88V204.88" fill="none" stroke="#ff0000" stroke-width="1.0"/>
<path d="M195.57 201.97H201.57M198.57 198.97V204.97" fill="none" stroke="#ff0000" stroke-width="1.0"/>
<path d="M200.63 202.05H206.63M203.63 199.05V205.05" fill="none" stroke="#ff0000" stroke-width="1.0"/>
<path d="M205.70 202.13H211.70M208.70 199.13V205.13" fill="none" stroke="#ff0000" stroke-width="1.0"/>
<path d="M210.77 202.20H216.77M213.77 199.20V205.20" fill="none" stroke="#ff0000" stroke-width="1.0"/>
<path d="M215.83 202.27H221.83M218.83 199.27V205.27" fill="none" stroke="#ff0000" stroke-width="1.0"/>
<path d="M220.90 202.34H226.90M223.90 199.34V205.34" fill="none" stroke="#ff0000" stroke-width="1.0"/>
<path d="M225.97 202.40H231.97M228.97 199.40V205.40" fill="none" stroke="#ff0000" stroke-width="1.0"/>
<path d="M231.03 202.46H237.03M234.03 199.46V205.46" fill="none" stroke="#ff0000" stroke-width="1.0"/>
<path d="M236.10 202.51H242.10M239.10 199.51V205.51" fill="none" stroke="#ff0000" stroke-width="1.0"/>
<path d="M241.17 202.57H247.17M244.17 199.57V205.57" fill="none" stroke="#ff0000" stroke-width="1.0"/>
<path d="M246.23 202.62H252.23M249.23 199.62V205.62" fill="none" stroke="#ff0000" stroke-width="1.0"/>
<path d="M251.30 202.66H257.30M254.30 199.66V205.66" fill="none" stroke="#ff0000" stroke-width="1.0"/>
<path d="M256.37 202.71H262.37M259.37 199.71V205.71" fill="none" stroke="#ff0000" stroke-width="1.0"/>
<path d="M261.43 202.75H267.43M264.43 199.75V205.75" fill="none" stroke="#ff0000" stroke-width="1.0"/>
<path d="M266.50 202.79H272.50M269.50 199.79V205.79" fill="none" stroke="#ff0000" stroke-width="1.0"/>
<path d="M271.57 202.83H277.57M274.57 199.83V205.83" fill="none" stroke="#ff0000" stroke-width="1.0"/>
<path d="M276.63 202.86H282.63M279.63 199.86V205.86" fill="none" stroke="#ff0000" stroke-width="1.0"/>
<path d="M281.70 202.90H287.70M284.70 199.90V205.90" fill="none" stroke="#ff0000" stroke-width="1.0"/>
<path d="M286.77 202.93H292.77M289.77 199.93V205.93" fill="none" stroke="#ff0000" stroke-width="1.0"/>
<path d="M291.83 202.96H297.83M294.83 199.96V205.96" fill="none" stroke="#ff0000" stroke-width="1.0"/>
<path d="M296.90 202.99H302.90M299.90 199.99V205.99" fill="none" stroke="#ff0000" stroke-width="1.0"/>
<path d="M301.97 203.02H307.97M304.97 200.02V206.02" fill="none" stroke="#ff0000" stroke-width="1.0"/>
<path d="M307.03 203.04H313.03M310.03 200.04V206.04" fill="none" stroke="#ff0000" stroke-width="1.0"/>
<path d="M312.10 203.07H318.10M315.10 200.07V206.07" fill="none" stroke="#ff0000" stroke-width="1.0"/>
<path d="M317.17 203.09H323.17M320.17 200.09V206.09" fill="none" stroke="#ff0000" stroke-width="1.0"/>
<path d="M322.23 203.11H328.23M325.23 200.11V206.11" fill="none" stroke="#ff0000" stroke-width="1.0"/>
<path d="M327.30 203.13H333.30M330.30 200.13V206.13" fill="none" stroke="#ff0000" stroke-width="1.0"/>
<path d="M31.37 49.68 L36.43 90.74 L41.50 117.83 L46.57 142.30 L51.63 161.87 L56.70 175.72 L61.77 186.34 L66.83 193.74 L71.90 198.75 L76.97 202.09 L82.03 204.36 L87.10 205.91 L92.17 206.99 L97.23 207.70 L102.30 208.18 L107.37 208.48 L112.43 208.66 L117.50 208.78 L122.57 208.86 L127.63 208.92 L132.70 208.94 L137.77 208.95 L142.83 208.97 L147.90 208.98 L152.97 208.98 L158.03 208.99 L163.10 209.00 L168.17 209.00 L173.23 209.00 L178.30 209.01 L183.37 209.01 L188.43 209.01 L193.50 209.01 L198.57 209.01 L203.63 209.01 L208.70 209.01 L213.77 209.01 L218.83 209.01 L223.90 209.01 L228.97 209.01 L234.03 209.02 L239.10 209.02 L244.17 209.02 L249.23 209.02 L254.30 209.02 L259.37 209.02 L264.43 209.02 L269.50 209.02 L274.57 209.02 L279.63 209.02 L284.70 209.02 L289.77 209.02 L294.83 209.02 L299.90 209.02 L304.97 209.02 L310.03 209.02 L315.10 209.02 L320.17 209.02 L325.23 209.02 L330.30 209.02" fill="none" stroke="#00ffff" stroke-width="0.85" stroke-dasharray="4 3.2"/>
<polygon points="28.12,47.78 34.62,47.78 31.37,53.43" fill="none" stroke="#00ffff" stroke-width="1.0"/>
<polygon points="33.18,88.84 39.68,88.84 36.43,94.49" fill="none" stroke="#00ffff" stroke-width="1.0"/>
<polygon points="38.25,115.93 44.75,115.93 41.50,121.58" fill="none" stroke="#00ffff" stroke-width="1.0"/>
<polygon points="43.32,140.40 49.82,140.40 46.57,146.05" fill="none" stroke="#00ffff" stroke-width="1.0"/>
<polygon points="48.38,159.97 54.88,159.97 51.63,165.62" fill="none" stroke="#00ffff" stroke-width="1.0"/>
<polygon points="53.45,173.82 59.95,173.82 56.70,179.47" fill="none" stroke="#00ffff" stroke-width="1.0"/>
<polygon points="58.52,184.44 65.02,184.44 61.77,190.09" fill="none" stroke="#00ffff" stroke-width="1.0"/>
<polygon points="63.58,191.84 70.08,191.84 66.83,197.49" fill="none" stroke="#00ffff" stroke-width="1.0"/>
<polygon points="68.65,196.85 75.15,196.85 71.90,202.50" fill="none" stroke="#00ffff" stroke-width="1.0"/>
<polygon points="73.72,200.19 80.22,200.19 76.97,205.84" fill="none" stroke="#00ffff" stroke-width="1.0"/>
<polygon points="78.78,202.46 85.28,202.46 82.03,208.11" fill="none" stroke="#00ffff" stroke-width="1.0"/>
<polygon points="83.85,204.01 90.35,204.01 87.10,209.66" fill="none" stroke="#00ffff" stroke-width="1.0"/>
<polygon points="88.92,205.09 95.42,205.09 92.17,210.74" fill="none" stroke="#00ffff" stroke-width="1.0"/>
<polygon points="93.98,205.80 100.48,205.80 97.23,211.45" fill="none" stroke="#00ffff" stroke-width="1.0"/>
<polygon points="99.05,206.28 105.55,206.28 102.30,211.93" fill="none" stroke="#00ffff" stroke-width="1.0"/>
<polygon points="104.12,206.58 110.62,206.58 107.37,212.23" fill="none" stroke="#00ffff" stroke-width="1.0"/>
<polygon points="109.18,206.76 115.68,206.76 112.43,212.41" fill="none" stroke="#00ffff" stroke-width="1.0"/>
<polygon points="114.25,206.88 120.75,206.88 117.50,212.53" fill="none" stroke="#00ffff" stroke-width="1.0"/>
<polygon points="119.32,206.96 125.82,206.96 122.57,212.61" fill="none" stroke="#00ffff" stroke-width="1.0"/>
<polygon points="124.38,207.02 130.88,207.02 127.63,212.67" fill="none" stroke="#00ffff" stroke-width="1.0"/>
<polygon points="129.45,207.04 135.95,207.04 132.70,212.69" fill="none" stroke="#00ffff" stroke-width="1.0"/>
<polygon points="134.52,207.05 141.02,207.05 137.77,212.70" fill="none" stroke="#00ffff" stroke-width="1.0"/>
<polygon points="139.58,207.07 146.08,207.07 142.83,212.72" fill="none" stroke="#00ffff" stroke-width="1.0"/>
<polygon points="144.65,207.08 151.15,207.08 147.90,212.73" fill="none" stroke="#00ffff" stroke-width="1.0"/>
<polygon points="149.72,207.08 156.22,207.08 152.97,212.73" fill="none" stroke="#00ffff" stroke-width="1.0"/>
<polygon points="154.78,207.09 161.28,207.09 158.03,212.74" fill="none" stroke="#00ffff" stroke-width="1.0"/>
<polygon points="159.85,207.10 166.35,207.10 163.10,212.75" fill="none" stroke="#00ffff" stroke-width="1.0"/>
<polygon points="164.92,207.10 171.42,207.10 168.17,212.75" fill="none" stroke="#00ffff" stroke-width="1.0"/>
<polygon points="169.98,207.10 176.48,207.10 173.23,212.75" fill="none" stroke="#00ffff" stroke-width="1.0"/>
<polygon points="175.05,207.11 181.55,207.11 178.30,212.76" fill="none" stroke="#00ffff" stroke-width="1.0"/>
<polygon points="180.12,207.11 186.62,207.11 183.37,212.76" fill="none" stroke="#00ffff" stroke-width="1.0"/>
<polygon points="185.18,207.11 191.68,207.11 188.43,212.76" fill="none" stroke="#00ffff" stroke-width="1.0"/>
<polygon points="190.25,207.11 196.75,207.11 193.50,212.76" fill="none" stroke="#00ffff" stroke-width="1.0"/>
<polygon points="195.32,207.11 201.82,207.11 198.57,212.76" fill="none" stroke="#00ffff" stroke-width="1.0"/>
<polygon points="200.38,207.11 206.88,207.11 203.63,212.76" fill="none" stroke="#00ffff" stroke-width="1.0"/>
<polygon points="205.45,207.11 211.95,207.11 208.70,212.76" fill="none" stroke="#00ffff" stroke-width="1.0"/>
<polygon points="210.52,207.11 217.02,207.11 213.77,212.76" fill="none" stroke="#00ffff" stroke-width="1.0"/>
<polygon points="215.58,207.11 222.08,207.11 218.83,212.76" fill="none" stroke="#00ffff" stroke-width="1.0"/>
<polygon points="220.65,207.11 227.15,207.11 223.90,212.76" fill="none" stroke="#00ffff" stroke-width="1.0"/>
<polygon points="225.72,207.11 232.22,207.11 228.97,212.76" fill="none" stroke="#00ffff" stroke-width="1.0"/>
<polygon points="230.78,207.12 237.28,207.12 234.03,212.77" fill="none" stroke="#00ffff" stroke-width="1.0"/>
<polygon points="235.85,207.12 242.35,207.12 239.10,212.77" fill="none" stroke="#00ffff" stroke-width="1.0"/>
<polygon points="240.92,207.12 247.42,207.12 244.17,212.77" fill="none" stroke="#00ffff" stroke-width="1.0"/>
<polygon points="245.98,207.12 252.48,207.12 249.23,212.77" fill="none" stroke="#00ffff" stroke-width="1.0"/>
<polygon points="251.05,207.12 257.55,207.12 254.30,212.77" fill="none" stroke="#00ffff" stroke-width="1.0"/>
<polygon points="256.12,207.12 262.62,207.12 259.37,212.77" fill="none" stroke="#00ffff" stroke-width="1.0"/>
<polygon points="261.18,207.12 267.68,207.12 264.43,212.77" fill="none" stroke="#00ffff" stroke-width="1.0"/>
<polygon points="266.25,207.12 272.75,207.12 269.50,212.77" fill="none" stroke="#00ffff" stroke-width="1.0"/>
<polygon points="271.32,207.12 277.82,207.12 274.57,212.77" fill="none" stroke="#00ffff" stroke-width="1.0"/>
<polygon points="276.38,207.12 282.88,207.12 279.63,212.77" fill="none" stroke="#00ffff" stroke-width="1.0"/>
<polygon points="281.45,207.12 287.95,207.12 284.70,212.77" fill="none" stroke="#00ffff" stroke-width="1.0"/>
<polygon points="286.52,207.12 293.02,207.12 289.77,212.77" fill="none" stroke="#00ffff" stroke-width="1.0"/>
<polygon points="291.58,207.12 298.08,207.12 294.83,212.77" fill="none" stroke="#00ffff" stroke-width="1.0"/>
<polygon points="296.65,207.12 303.15,207.12 299.90,212.77" fill="none" stroke="#00ffff" stroke-width="1.0"/>
<polygon points="301.72,207.12 308.22,207.12 304.97,212.77" fill="none" stroke="#00ffff" stroke-width="1.0"/>
<polygon points="306.78,207.12 313.28,207.12 310.03,212.77" fill="none" stroke="#00ffff" stroke-width="1.0"/>
<polygon points="311.85,207.12 318.35,207.12 315.10,212.77" fill="none" stroke="#00ffff" stroke-width="1.0"/>
<polygon points="316.92,207.12 323.42,207.12 320.17,212.77" fill="none" stroke="#00ffff" stroke-width="1.0"/>
<polygon points="321.98,207.12 328.48,207.12 325.23,212.77" fill="none" stroke="#00ffff" stroke-width="1.0"/>
<polygon points="327.05,207.12 333.55,207.12 330.30,212.77" fill="none" stroke="#00ffff" stroke-width="1.0"/>
</g>
<rect x="26.30" y="4.45" width="304.00" height="238.70" fill="none" stroke="#7c7c7c" stroke-width="1.15"/>
<text x="26.30" y="256.8" text-anchor="middle" font-size="9.2">0</text>
<text x="76.97" y="256.8" text-anchor="middle" font-size="9.2">10</text>
<text x="127.63" y="256.8" text-anchor="middle" font-size="9.2">20</text>
<text x="178.30" y="256.8" text-anchor="middle" font-size="9.2">30</text>
<text x="228.97" y="256.8" text-anchor="middle" font-size="9.2">40</text>
<text x="279.63" y="256.8" text-anchor="middle" font-size="9.2">50</text>
<text x="330.30" y="256.8" text-anchor="middle" font-size="9.2">60</text>
<text x="22.10" y="246.45" text-anchor="end" font-size="9.2">600</text>
<text x="22.10" y="222.58" text-anchor="end" font-size="9.2">800</text>
<text x="22.10" y="198.71" text-anchor="end" font-size="9.2">1000</text>
<text x="22.10" y="174.84" text-anchor="end" font-size="9.2">1200</text>
<text x="22.10" y="150.97" text-anchor="end" font-size="9.2">1400</text>
<text x="22.10" y="127.10" text-anchor="end" font-size="9.2">1600</text>
<text x="22.10" y="103.23" text-anchor="end" font-size="9.2">1800</text>
<text x="22.10" y="79.36" text-anchor="end" font-size="9.2">2000</text>
<text x="22.10" y="55.49" text-anchor="end" font-size="9.2">2200</text>
<text x="22.10" y="31.62" text-anchor="end" font-size="9.2">2400</text>
<text x="22.10" y="7.75" text-anchor="end" font-size="9.2">2600</text>
<path d="M26.30 243.15v-3.00M26.30 4.45v3.00M76.97 243.15v-3.00M76.97 4.45v3.00M127.63 243.15v-3.00M127.63 4.45v3.00M178.30 243.15v-3.00M178.30 4.45v3.00M228.97 243.15v-3.00M228.97 4.45v3.00M279.63 243.15v-3.00M279.63 4.45v3.00M330.30 243.15v-3.00M330.30 4.45v3.00M26.30 243.15h3.00M330.30 243.15h-3.00M26.30 219.28h3.00M330.30 219.28h-3.00M26.30 195.41h3.00M330.30 195.41h-3.00M26.30 171.54h3.00M330.30 171.54h-3.00M26.30 147.67h3.00M330.30 147.67h-3.00M26.30 123.80h3.00M330.30 123.80h-3.00M26.30 99.93h3.00M330.30 99.93h-3.00M26.30 76.06h3.00M330.30 76.06h-3.00M26.30 52.19h3.00M330.30 52.19h-3.00M26.30 28.32h3.00M330.30 28.32h-3.00M26.30 4.45h3.00M330.30 4.45h-3.00" stroke="#7c7c7c" stroke-width="1.15" fill="none"/>
<text x="178.30" y="269.9" text-anchor="middle" font-size="10.5">(a)</text>
<rect x="241.20" y="11.20" width="81.60" height="71.40" fill="#fff" stroke="#7c7c7c" stroke-width="1.15"/>
<path d="M244.10 18.35H272.10" stroke="#ffff00" stroke-width="0.85"/>
<polygon points="256.20,15.10 256.20,21.60 261.85,18.35" fill="none" stroke="#ffff00" stroke-width="1.0"/>
<text x="274.80" y="21.25" font-size="8.3" fill="#000">HCOA</text>
<path d="M244.10 29.82H272.10" stroke="#000000" stroke-width="0.85"/>
<polygon points="258.10,25.92 261.00,29.82 258.10,33.72 255.20,29.82" fill="none" stroke="#000000" stroke-width="1.0"/>
<text x="274.80" y="32.72" font-size="8.3" fill="#000">BBPSO</text>
<path d="M244.10 41.29H272.10" stroke="#00ff00" stroke-width="0.85"/>
<circle cx="258.10" cy="41.29" r="2.9" fill="none" stroke="#00ff00" stroke-width="1.0"/>
<text x="274.80" y="44.19" font-size="8.3" fill="#000">PBBPSO</text>
<path d="M244.10 52.76H272.10" stroke="#0000ff" stroke-width="0.85"/>
<path d="M255.10 52.76H261.10M258.10 49.76V55.76M256.00 50.66L260.20 54.86M256.00 54.86L260.20 50.66" fill="none" stroke="#0000ff" stroke-width="1.0"/>
<text x="274.80" y="55.66" font-size="8.3" fill="#000">DLSBBPSO</text>
<path d="M244.10 64.23H272.10" stroke="#ff0000" stroke-width="0.85" stroke-dasharray="4 3.2"/>
<path d="M255.10 64.23H261.10M258.10 61.23V67.23" fill="none" stroke="#ff0000" stroke-width="1.0"/>
<text x="274.80" y="67.13" font-size="8.3" fill="#000">TBBPSO</text>
<path d="M244.10 75.70H272.10" stroke="#00ffff" stroke-width="0.85" stroke-dasharray="4 3.2"/>
<polygon points="254.85,73.80 261.35,73.80 258.10,79.45" fill="none" stroke="#00ffff" stroke-width="1.0"/>
<text x="274.80" y="78.60" font-size="8.3" fill="#000">ETBBPSO</text>
<g>
<path d="M386.15 233.60 L392.90 233.60 L399.65 233.60 L406.40 233.60 L413.16 233.60 L419.91 233.60 L426.66 233.60 L433.41 233.60 L440.16 233.60 L446.91 233.60 L453.66 233.60 L460.41 233.60 L467.16 233.60 L473.92 233.60 L480.67 233.60 L487.42 233.60 L494.17 233.60 L500.92 233.60 L507.67 233.60 L514.42 233.60 L521.17 233.60 L527.92 233.60 L534.68 233.60 L541.43 233.60 L548.18 233.60 L554.93 233.60 L561.68 233.60 L568.43 233.60 L575.18 233.60 L581.93 233.60 L588.68 233.60 L595.44 233.60 L602.19 233.60 L608.94 233.60 L615.69 233.60 L622.44 233.60 L629.19 233.60 L635.94 233.60 L642.69 233.60 L649.44 233.60 L656.20 233.60" fill="none" stroke="#ffff00" stroke-width="0.85"/>
<polygon points="384.25,230.35 384.25,236.85 389.90,233.60" fill="none" stroke="#ffff00" stroke-width="1.0"/>
<polygon points="391.00,230.35 391.00,236.85 396.65,233.60" fill="none" stroke="#ffff00" stroke-width="1.0"/>
<polygon points="397.75,230.35 397.75,236.85 403.40,233.60" fill="none" stroke="#ffff00" stroke-width="1.0"/>
<polygon points="404.50,230.35 404.50,236.85 410.15,233.60" fill="none" stroke="#ffff00" stroke-width="1.0"/>
<polygon points="411.26,230.35 411.26,236.85 416.91,233.60" fill="none" stroke="#ffff00" stroke-width="1.0"/>
<polygon points="418.01,230.35 418.01,236.85 423.66,233.60" fill="none" stroke="#ffff00" stroke-width="1.0"/>
<polygon points="424.76,230.35 424.76,236.85 430.41,233.60" fill="none" stroke="#ffff00" stroke-width="1.0"/>
<polygon points="431.51,230.35 431.51,236.85 437.16,233.60" fill="none" stroke="#ffff00" stroke-width="1.0"/>
<polygon points="438.26,230.35 438.26,236.85 443.91,233.60" fill="none" stroke="#ffff00" stroke-width="1.0"/>
<polygon points="445.01,230.35 445.01,236.85 450.66,233.60" fill="none" stroke="#ffff00" stroke-width="1.0"/>
<polygon points="451.76,230.35 451.76,236.85 457.41,233.60" fill="none" stroke="#ffff00" stroke-width="1.0"/>
<polygon points="458.51,230.35 458.51,236.85 464.16,233.60" fill="none" stroke="#ffff00" stroke-width="1.0"/>
<polygon points="465.26,230.35 465.26,236.85 470.91,233.60" fill="none" stroke="#ffff00" stroke-width="1.0"/>
<polygon points="472.02,230.35 472.02,236.85 477.67,233.60" fill="none" stroke="#ffff00" stroke-width="1.0"/>
<polygon points="478.77,230.35 478.77,236.85 484.42,233.60" fill="none" stroke="#ffff00" stroke-width="1.0"/>
<polygon points="485.52,230.35 485.52,236.85 491.17,233.60" fill="none" stroke="#ffff00" stroke-width="1.0"/>
<polygon points="492.27,230.35 492.27,236.85 497.92,233.60" fill="none" stroke="#ffff00" stroke-width="1.0"/>
<polygon points="499.02,230.35 499.02,236.85 504.67,233.60" fill="none" stroke="#ffff00" stroke-width="1.0"/>
<polygon points="505.77,230.35 505.77,236.85 511.42,233.60" fill="none" stroke="#ffff00" stroke-width="1.0"/>
<polygon points="512.52,230.35 512.52,236.85 518.17,233.60" fill="none" stroke="#ffff00" stroke-width="1.0"/>
<polygon points="519.27,230.35 519.27,236.85 524.92,233.60" fill="none" stroke="#ffff00" stroke-width="1.0"/>
<polygon points="526.02,230.35 526.02,236.85 531.67,233.60" fill="none" stroke="#ffff00" stroke-width="1.0"/>
<polygon points="532.78,230.35 532.78,236.85 538.43,233.60" fill="none" stroke="#ffff00" stroke-width="1.0"/>
<polygon points="539.53,230.35 539.53,236.85 545.18,233.60" fill="none" stroke="#ffff00" stroke-width="1.0"/>
<polygon points="546.28,230.35 546.28,236.85 551.93,233.60" fill="none" stroke="#ffff00" stroke-width="1.0"/>
<polygon points="553.03,230.35 553.03,236.85 558.68,233.60" fill="none" stroke="#ffff00" stroke-width="1.0"/>
<polygon points="559.78,230.35 559.78,236.85 565.43,233.60" fill="none" stroke="#ffff00" stroke-width="1.0"/>
<polygon points="566.53,230.35 566.53,236.85 572.18,233.60" fill="none" stroke="#ffff00" stroke-width="1.0"/>
<polygon points="573.28,230.35 573.28,236.85 578.93,233.60" fill="none" stroke="#ffff00" stroke-width="1.0"/>
<polygon points="580.03,230.35 580.03,236.85 585.68,233.60" fill="none" stroke="#ffff00" stroke-width="1.0"/>
<polygon points="586.78,230.35 586.78,236.85 592.43,233.60" fill="none" stroke="#ffff00" stroke-width="1.0"/>
<polygon points="593.54,230.35 593.54,236.85 599.19,233.60" fill="none" stroke="#ffff00" stroke-width="1.0"/>
<polygon points="600.29,230.35 600.29,236.85 605.94,233.60" fill="none" stroke="#ffff00" stroke-width="1.0"/>
<polygon points="607.04,230.35 607.04,236.85 612.69,233.60" fill="none" stroke="#ffff00" stroke-width="1.0"/>
<polygon points="613.79,230.35 613.79,236.85 619.44,233.60" fill="none" stroke="#ffff00" stroke-width="1.0"/>
<polygon points="620.54,230.35 620.54,236.85 626.19,233.60" fill="none" stroke="#ffff00" stroke-width="1.0"/>
<polygon points="627.29,230.35 627.29,236.85 632.94,233.60" fill="none" stroke="#ffff00" stroke-width="1.0"/>
<polygon points="634.04,230.35 634.04,236.85 639.69,233.60" fill="none" stroke="#ffff00" stroke-width="1.0"/>
<polygon points="640.79,230.35 640.79,236.85 646.44,233.60" fill="none" stroke="#ffff00" stroke-width="1.0"/>
<polygon points="647.54,230.35 647.54,236.85 653.19,233.60" fill="none" stroke="#ffff00" stroke-width="1.0"/>
<polygon points="654.30,230.35 654.30,236.85 659.95,233.60" fill="none" stroke="#ffff00" stroke-width="1.0"/>
<path d="M386.15 99.93 L392.90 99.93 L399.65 99.93 L406.40 99.93 L413.16 99.93 L419.91 99.93 L426.66 99.93 L433.41 99.93 L440.16 99.93 L446.91 99.93 L453.66 99.93 L460.41 99.93 L467.16 99.93 L473.92 99.93 L480.67 99.93 L487.42 99.93 L494.17 99.93 L500.92 99.93 L507.67 99.93 L514.42 99.93 L521.17 99.93 L527.92 99.93 L534.68 99.93 L541.43 99.93 L548.18 99.93 L554.93 99.93 L561.68 99.93 L568.43 99.93 L575.18 99.93 L581.93 99.93 L588.68 99.93 L595.44 99.93 L602.19 99.93 L608.94 99.93 L615.69 99.93 L622.44 101.36 L629.19 101.84 L635.94 101.84 L642.69 101.84 L649.44 101.84 L656.20 101.84" fill="none" stroke="#000000" stroke-width="0.85"/>
<polygon points="386.15,96.03 389.05,99.93 386.15,103.83 383.25,99.93" fill="none" stroke="#000000" stroke-width="1.0"/>
<polygon points="392.90,96.03 395.80,99.93 392.90,103.83 390.00,99.93" fill="none" stroke="#000000" stroke-width="1.0"/>
<polygon points="399.65,96.03 402.55,99.93 399.65,103.83 396.75,99.93" fill="none" stroke="#000000" stroke-width="1.0"/>
<polygon points="406.40,96.03 409.30,99.93 406.40,103.83 403.50,99.93" fill="none" stroke="#000000" stroke-width="1.0"/>
<polygon points="413.16,96.03 416.06,99.93 413.16,103.83 410.26,99.93" fill="none" stroke="#000000" stroke-width="1.0"/>
<polygon points="419.91,96.03 422.81,99.93 419.91,103.83 417.01,99.93" fill="none" stroke="#000000" stroke-width="1.0"/>
<polygon points="426.66,96.03 429.56,99.93 426.66,103.83 423.76,99.93" fill="none" stroke="#000000" stroke-width="1.0"/>
<polygon points="433.41,96.03 436.31,99.93 433.41,103.83 430.51,99.93" fill="none" stroke="#000000" stroke-width="1.0"/>
<polygon points="440.16,96.03 443.06,99.93 440.16,103.83 437.26,99.93" fill="none" stroke="#000000" stroke-width="1.0"/>
<polygon points="446.91,96.03 449.81,99.93 446.91,103.83 444.01,99.93" fill="none" stroke="#000000" stroke-width="1.0"/>
<polygon points="453.66,96.03 456.56,99.93 453.66,103.83 450.76,99.93" fill="none" stroke="#000000" stroke-width="1.0"/>
<polygon points="460.41,96.03 463.31,99.93 460.41,103.83 457.51,99.93" fill="none" stroke="#000000" stroke-width="1.0"/>
<polygon points="467.16,96.03 470.06,99.93 467.16,103.83 464.26,99.93" fill="none" stroke="#000000" stroke-width="1.0"/>
<polygon points="473.92,96.03 476.82,99.93 473.92,103.83 471.02,99.93" fill="none" stroke="#000000" stroke-width="1.0"/>
<polygon points="480.67,96.03 483.57,99.93 480.67,103.83 477.77,99.93" fill="none" stroke="#000000" stroke-width="1.0"/>
<polygon points="487.42,96.03 490.32,99.93 487.42,103.83 484.52,99.93" fill="none" stroke="#000000" stroke-width="1.0"/>
<polygon points="494.17,96.03 497.07,99.93 494.17,103.83 491.27,99.93" fill="none" stroke="#000000" stroke-width="1.0"/>
<polygon points="500.92,96.03 503.82,99.93 500.92,103.83 498.02,99.93" fill="none" stroke="#000000" stroke-width="1.0"/>
<polygon points="507.67,96.03 510.57,99.93 507.67,103.83 504.77,99.93" fill="none" stroke="#000000" stroke-width="1.0"/>
<polygon points="514.42,96.03 517.32,99.93 514.42,103.83 511.52,99.93" fill="none" stroke="#000000" stroke-width="1.0"/>
<polygon points="521.17,96.03 524.07,99.93 521.17,103.83 518.27,99.93" fill="none" stroke="#000000" stroke-width="1.0"/>
<polygon points="527.92,96.03 530.82,99.93 527.92,103.83 525.02,99.93" fill="none" stroke="#000000" stroke-width="1.0"/>
<polygon points="534.68,96.03 537.58,99.93 534.68,103.83 531.78,99.93" fill="none" stroke="#000000" stroke-width="1.0"/>
<polygon points="541.43,96.03 544.33,99.93 541.43,103.83 538.53,99.93" fill="none" stroke="#000000" stroke-width="1.0"/>
<polygon points="548.18,96.03 551.08,99.93 548.18,103.83 545.28,99.93" fill="none" stroke="#000000" stroke-width="1.0"/>
<polygon points="554.93,96.03 557.83,99.93 554.93,103.83 552.03,99.93" fill="none" stroke="#000000" stroke-width="1.0"/>
<polygon points="561.68,96.03 564.58,99.93 561.68,103.83 558.78,99.93" fill="none" stroke="#000000" stroke-width="1.0"/>
<polygon points="568.43,96.03 571.33,99.93 568.43,103.83 565.53,99.93" fill="none" stroke="#000000" stroke-width="1.0"/>
<polygon points="575.18,96.03 578.08,99.93 575.18,103.83 572.28,99.93" fill="none" stroke="#000000" stroke-width="1.0"/>
<polygon points="581.93,96.03 584.83,99.93 581.93,103.83 579.03,99.93" fill="none" stroke="#000000" stroke-width="1.0"/>
<polygon points="588.68,96.03 591.58,99.93 588.68,103.83 585.78,99.93" fill="none" stroke="#000000" stroke-width="1.0"/>
<polygon points="595.44,96.03 598.34,99.93 595.44,103.83 592.54,99.93" fill="none" stroke="#000000" stroke-width="1.0"/>
<polygon points="602.19,96.03 605.09,99.93 602.19,103.83 599.29,99.93" fill="none" stroke="#000000" stroke-width="1.0"/>
<polygon points="608.94,96.03 611.84,99.93 608.94,103.83 606.04,99.93" fill="none" stroke="#000000" stroke-width="1.0"/>
<polygon points="615.69,96.03 618.59,99.93 615.69,103.83 612.79,99.93" fill="none" stroke="#000000" stroke-width="1.0"/>
<polygon points="622.44,97.46 625.34,101.36 622.44,105.26 619.54,101.36" fill="none" stroke="#000000" stroke-width="1.0"/>
<polygon points="629.19,97.94 632.09,101.84 629.19,105.74 626.29,101.84" fill="none" stroke="#000000" stroke-width="1.0"/>
<polygon points="635.94,97.94 638.84,101.84 635.94,105.74 633.04,101.84" fill="none" stroke="#000000" stroke-width="1.0"/>
<polygon points="642.69,97.94 645.59,101.84 642.69,105.74 639.79,101.84" fill="none" stroke="#000000" stroke-width="1.0"/>
<polygon points="649.44,97.94 652.34,101.84 649.44,105.74 646.54,101.84" fill="none" stroke="#000000" stroke-width="1.0"/>
<polygon points="656.20,97.94 659.10,101.84 656.20,105.74 653.30,101.84" fill="none" stroke="#000000" stroke-width="1.0"/>
<path d="M386.15 21.33 L392.90 21.41 L399.65 21.49 L406.40 21.57 L413.16 21.64 L419.91 21.71 L426.66 21.77 L433.41 21.82 L440.16 21.88 L446.91 21.93 L453.66 21.97 L460.41 22.01 L467.16 22.05 L473.92 22.09 L480.67 22.13 L487.42 22.16 L494.17 22.19 L500.92 22.22 L507.67 22.24 L514.42 22.27 L521.17 22.29 L527.92 22.31 L534.68 22.33 L541.43 22.35 L548.18 22.36 L554.93 22.38 L561.68 22.39 L568.43 22.41 L575.18 22.42 L581.93 22.43 L588.68 22.44 L595.44 22.45 L602.19 22.46 L608.94 22.47 L615.69 22.48 L622.44 22.49 L629.19 22.49 L635.94 22.50 L642.69 22.51 L649.44 22.51 L656.20 22.52" fill="none" stroke="#00ff00" stroke-width="0.85"/>
<circle cx="386.15" cy="21.33" r="2.9" fill="none" stroke="#00ff00" stroke-width="1.0"/>
<circle cx="392.90" cy="21.41" r="2.9" fill="none" stroke="#00ff00" stroke-width="1.0"/>
<circle cx="399.65" cy="21.49" r="2.9" fill="none" stroke="#00ff00" stroke-width="1.0"/>
<circle cx="406.40" cy="21.57" r="2.9" fill="none" stroke="#00ff00" stroke-width="1.0"/>
<circle cx="413.16" cy="21.64" r="2.9" fill="none" stroke="#00ff00" stroke-width="1.0"/>
<circle cx="419.91" cy="21.71" r="2.9" fill="none" stroke="#00ff00" stroke-width="1.0"/>
<circle cx="426.66" cy="21.77" r="2.9" fill="none" stroke="#00ff00" stroke-width="1.0"/>
<circle cx="433.41" cy="21.82" r="2.9" fill="none" stroke="#00ff00" stroke-width="1.0"/>
<circle cx="440.16" cy="21.88" r="2.9" fill="none" stroke="#00ff00" stroke-width="1.0"/>
<circle cx="446.91" cy="21.93" r="2.9" fill="none" stroke="#00ff00" stroke-width="1.0"/>
<circle cx="453.66" cy="21.97" r="2.9" fill="none" stroke="#00ff00" stroke-width="1.0"/>
<circle cx="460.41" cy="22.01" r="2.9" fill="none" stroke="#00ff00" stroke-width="1.0"/>
<circle cx="467.16" cy="22.05" r="2.9" fill="none" stroke="#00ff00" stroke-width="1.0"/>
<circle cx="473.92" cy="22.09" r="2.9" fill="none" stroke="#00ff00" stroke-width="1.0"/>
<circle cx="480.67" cy="22.13" r="2.9" fill="none" stroke="#00ff00" stroke-width="1.0"/>
<circle cx="487.42" cy="22.16" r="2.9" fill="none" stroke="#00ff00" stroke-width="1.0"/>
<circle cx="494.17" cy="22.19" r="2.9" fill="none" stroke="#00ff00" stroke-width="1.0"/>
<circle cx="500.92" cy="22.22" r="2.9" fill="none" stroke="#00ff00" stroke-width="1.0"/>
<circle cx="507.67" cy="22.24" r="2.9" fill="none" stroke="#00ff00" stroke-width="1.0"/>
<circle cx="514.42" cy="22.27" r="2.9" fill="none" stroke="#00ff00" stroke-width="1.0"/>
<circle cx="521.17" cy="22.29" r="2.9" fill="none" stroke="#00ff00" stroke-width="1.0"/>
<circle cx="527.92" cy="22.31" r="2.9" fill="none" stroke="#00ff00" stroke-width="1.0"/>
<circle cx="534.68" cy="22.33" r="2.9" fill="none" stroke="#00ff00" stroke-width="1.0"/>
<circle cx="541.43" cy="22.35" r="2.9" fill="none" stroke="#00ff00" stroke-width="1.0"/>
<circle cx="548.18" cy="22.36" r="2.9" fill="none" stroke="#00ff00" stroke-width="1.0"/>
<circle cx="554.93" cy="22.38" r="2.9" fill="none" stroke="#00ff00" stroke-width="1.0"/>
<circle cx="561.68" cy="22.39" r="2.9" fill="none" stroke="#00ff00" stroke-width="1.0"/>
<circle cx="568.43" cy="22.41" r="2.9" fill="none" stroke="#00ff00" stroke-width="1.0"/>
<circle cx="575.18" cy="22.42" r="2.9" fill="none" stroke="#00ff00" stroke-width="1.0"/>
<circle cx="581.93" cy="22.43" r="2.9" fill="none" stroke="#00ff00" stroke-width="1.0"/>
<circle cx="588.68" cy="22.44" r="2.9" fill="none" stroke="#00ff00" stroke-width="1.0"/>
<circle cx="595.44" cy="22.45" r="2.9" fill="none" stroke="#00ff00" stroke-width="1.0"/>
<circle cx="602.19" cy="22.46" r="2.9" fill="none" stroke="#00ff00" stroke-width="1.0"/>
<circle cx="608.94" cy="22.47" r="2.9" fill="none" stroke="#00ff00" stroke-width="1.0"/>
<circle cx="615.69" cy="22.48" r="2.9" fill="none" stroke="#00ff00" stroke-width="1.0"/>
<circle cx="622.44" cy="22.49" r="2.9" fill="none" stroke="#00ff00" stroke-width="1.0"/>
<circle cx="629.19" cy="22.49" r="2.9" fill="none" stroke="#00ff00" stroke-width="1.0"/>
<circle cx="635.94" cy="22.50" r="2.9" fill="none" stroke="#00ff00" stroke-width="1.0"/>
<circle cx="642.69" cy="22.51" r="2.9" fill="none" stroke="#00ff00" stroke-width="1.0"/>
<circle cx="649.44" cy="22.51" r="2.9" fill="none" stroke="#00ff00" stroke-width="1.0"/>
<circle cx="656.20" cy="22.52" r="2.9" fill="none" stroke="#00ff00" stroke-width="1.0"/>
<path d="M386.15 24.88 L392.90 24.88 L399.65 24.88 L406.40 24.88 L413.16 24.88 L419.91 24.88 L426.66 24.88 L433.41 24.88 L440.16 24.88 L446.91 24.88 L453.66 24.88 L460.41 24.88 L467.16 24.88 L473.92 24.88 L480.67 24.88 L487.42 24.88 L494.17 24.88 L500.92 24.88 L507.67 24.88 L514.42 24.88 L521.17 24.88 L527.92 24.88 L534.68 26.22 L541.43 26.22 L548.18 26.22 L554.93 26.22 L561.68 26.22 L568.43 26.22 L575.18 26.22 L581.93 26.22 L588.68 26.22 L595.44 26.22 L602.19 26.22 L608.94 26.22 L615.69 26.22 L622.44 26.22 L629.19 26.22 L635.94 26.22 L642.69 26.22 L649.44 26.22 L656.20 26.22" fill="none" stroke="#0000ff" stroke-width="0.85"/>
<path d="M383.15 24.88H389.15M386.15 21.88V27.88M384.05 22.78L388.25 26.98M384.05 26.98L388.25 22.78" fill="none" stroke="#0000ff" stroke-width="1.0"/>
<path d="M389.90 24.88H395.90M392.90 21.88V27.88M390.80 22.78L395.00 26.98M390.80 26.98L395.00 22.78" fill="none" stroke="#0000ff" stroke-width="1.0"/>
<path d="M396.65 24.88H402.65M399.65 21.88V27.88M397.55 22.78L401.75 26.98M397.55 26.98L401.75 22.78" fill="none" stroke="#0000ff" stroke-width="1.0"/>
<path d="M403.40 24.88H409.40M406.40 21.88V27.88M404.30 22.78L408.50 26.98M404.30 26.98L408.50 22.78" fill="none" stroke="#0000ff" stroke-width="1.0"/>
<path d="M410.16 24.88H416.16M413.16 21.88V27.88M411.06 22.78L415.26 26.98M411.06 26.98L415.26 22.78" fill="none" stroke="#0000ff" stroke-width="1.0"/>
<path d="M416.91 24.88H422.91M419.91 21.88V27.88M417.81 22.78L422.01 26.98M417.81 26.98L422.01 22.78" fill="none" stroke="#0000ff" stroke-width="1.0"/>
<path d="M423.66 24.88H429.66M426.66 21.88V27.88M424.56 22.78L428.76 26.98M424.56 26.98L428.76 22.78" fill="none" stroke="#0000ff" stroke-width="1.0"/>
<path d="M430.41 24.88H436.41M433.41 21.88V27.88M431.31 22.78L435.51 26.98M431.31 26.98L435.51 22.78" fill="none" stroke="#0000ff" stroke-width="1.0"/>
<path d="M437.16 24.88H443.16M440.16 21.88V27.88M438.06 22.78L442.26 26.98M438.06 26.98L442.26 22.78" fill="none" stroke="#0000ff" stroke-width="1.0"/>
<path d="M443.91 24.88H449.91M446.91 21.88V27.88M444.81 22.78L449.01 26.98M444.81 26.98L449.01 22.78" fill="none" stroke="#0000ff" stroke-width="1.0"/>
<path d="M450.66 24.88H456.66M453.66 21.88V27.88M451.56 22.78L455.76 26.98M451.56 26.98L455.76 22.78" fill="none" stroke="#0000ff" stroke-width="1.0"/>
<path d="M457.41 24.88H463.41M460.41 21.88V27.88M458.31 22.78L462.51 26.98M458.31 26.98L462.51 22.78" fill="none" stroke="#0000ff" stroke-width="1.0"/>
<path d="M464.16 24.88H470.16M467.16 21.88V27.88M465.06 22.78L469.26 26.98M465.06 26.98L469.26 22.78" fill="none" stroke="#0000ff" stroke-width="1.0"/>
<path d="M470.92 24.88H476.92M473.92 21.88V27.88M471.82 22.78L476.02 26.98M471.82 26.98L476.02 22.78" fill="none" stroke="#0000ff" stroke-width="1.0"/>
<path d="M477.67 24.88H483.67M480.67 21.88V27.88M478.57 22.78L482.77 26.98M478.57 26.98L482.77 22.78" fill="none" stroke="#0000ff" stroke-width="1.0"/>
<path d="M484.42 24.88H490.42M487.42 21.88V27.88M485.32 22.78L489.52 26.98M485.32 26.98L489.52 22.78" fill="none" stroke="#0000ff" stroke-width="1.0"/>
<path d="M491.17 24.88H497.17M494.17 21.88V27.88M492.07 22.78L496.27 26.98M492.07 26.98L496.27 22.78" fill="none" stroke="#0000ff" stroke-width="1.0"/>
<path d="M497.92 24.88H503.92M500.92 21.88V27.88M498.82 22.78L503.02 26.98M498.82 26.98L503.02 22.78" fill="none" stroke="#0000ff" stroke-width="1.0"/>
<path d="M504.67 24.88H510.67M507.67 21.88V27.88M505.57 22.78L509.77 26.98M505.57 26.98L509.77 22.78" fill="none" stroke="#0000ff" stroke-width="1.0"/>
<path d="M511.42 24.88H517.42M514.42 21.88V27.88M512.32 22.78L516.52 26.98M512.32 26.98L516.52 22.78" fill="none" stroke="#0000ff" stroke-width="1.0"/>
<path d="M518.17 24.88H524.17M521.17 21.88V27.88M519.07 22.78L523.27 26.98M519.07 26.98L523.27 22.78" fill="none" stroke="#0000ff" stroke-width="1.0"/>
<path d="M524.92 24.88H530.92M527.92 21.88V27.88M525.82 22.78L530.02 26.98M525.82 26.98L530.02 22.78" fill="none" stroke="#0000ff" stroke-width="1.0"/>
<path d="M531.68 26.22H537.68M534.68 23.22V29.22M532.58 24.12L536.78 28.32M532.58 28.32L536.78 24.12" fill="none" stroke="#0000ff" stroke-width="1.0"/>
<path d="M538.43 26.22H544.43M541.43 23.22V29.22M539.33 24.12L543.53 28.32M539.33 28.32L543.53 24.12" fill="none" stroke="#0000ff" stroke-width="1.0"/>
<path d="M545.18 26.22H551.18M548.18 23.22V29.22M546.08 24.12L550.28 28.32M546.08 28.32L550.28 24.12" fill="none" stroke="#0000ff" stroke-width="1.0"/>
<path d="M551.93 26.22H557.93M554.93 23.22V29.22M552.83 24.12L557.03 28.32M552.83 28.32L557.03 24.12" fill="none" stroke="#0000ff" stroke-width="1.0"/>
<path d="M558.68 26.22H564.68M561.68 23.22V29.22M559.58 24.12L563.78 28.32M559.58 28.32L563.78 24.12" fill="none" stroke="#0000ff" stroke-width="1.0"/>
<path d="M565.43 26.22H571.43M568.43 23.22V29.22M566.33 24.12L570.53 28.32M566.33 28.32L570.53 24.12" fill="none" stroke="#0000ff" stroke-width="1.0"/>
<path d="M572.18 26.22H578.18M575.18 23.22V29.22M573.08 24.12L577.28 28.32M573.08 28.32L577.28 24.12" fill="none" stroke="#0000ff" stroke-width="1.0"/>
<path d="M578.93 26.22H584.93M581.93 23.22V29.22M579.83 24.12L584.03 28.32M579.83 28.32L584.03 24.12" fill="none" stroke="#0000ff" stroke-width="1.0"/>
<path d="M585.68 26.22H591.68M588.68 23.22V29.22M586.58 24.12L590.78 28.32M586.58 28.32L590.78 24.12" fill="none" stroke="#0000ff" stroke-width="1.0"/>
<path d="M592.44 26.22H598.44M595.44 23.22V29.22M593.34 24.12L597.54 28.32M593.34 28.32L597.54 24.12" fill="none" stroke="#0000ff" stroke-width="1.0"/>
<path d="M599.19 26.22H605.19M602.19 23.22V29.22M600.09 24.12L604.29 28.32M600.09 28.32L604.29 24.12" fill="none" stroke="#0000ff" stroke-width="1.0"/>
<path d="M605.94 26.22H611.94M608.94 23.22V29.22M606.84 24.12L611.04 28.32M606.84 28.32L611.04 24.12" fill="none" stroke="#0000ff" stroke-width="1.0"/>
<path d="M612.69 26.22H618.69M615.69 23.22V29.22M613.59 24.12L617.79 28.32M613.59 28.32L617.79 24.12" fill="none" stroke="#0000ff" stroke-width="1.0"/>
<path d="M619.44 26.22H625.44M622.44 23.22V29.22M620.34 24.12L624.54 28.32M620.34 28.32L624.54 24.12" fill="none" stroke="#0000ff" stroke-width="1.0"/>
<path d="M626.19 26.22H632.19M629.19 23.22V29.22M627.09 24.12L631.29 28.32M627.09 28.32L631.29 24.12" fill="none" stroke="#0000ff" stroke-width="1.0"/>
<path d="M632.94 26.22H638.94M635.94 23.22V29.22M633.84 24.12L638.04 28.32M633.84 28.32L638.04 24.12" fill="none" stroke="#0000ff" stroke-width="1.0"/>
<path d="M639.69 26.22H645.69M642.69 23.22V29.22M640.59 24.12L644.79 28.32M640.59 28.32L644.79 24.12" fill="none" stroke="#0000ff" stroke-width="1.0"/>
<path d="M646.44 26.22H652.44M649.44 23.22V29.22M647.34 24.12L651.54 28.32M647.34 28.32L651.54 24.12" fill="none" stroke="#0000ff" stroke-width="1.0"/>
<path d="M653.20 26.22H659.20M656.20 23.22V29.22M654.10 24.12L658.30 28.32M654.10 28.32L658.30 24.12" fill="none" stroke="#0000ff" stroke-width="1.0"/>
<path d="M386.15 18.63 L392.90 18.78 L399.65 18.92 L406.40 19.05 L413.16 19.17 L419.91 19.29 L426.66 19.40 L433.41 19.51 L440.16 19.61 L446.91 19.70 L453.66 19.79 L460.41 19.87 L467.16 19.95 L473.92 20.03 L480.67 20.10 L487.42 20.17 L494.17 20.23 L500.92 20.29 L507.67 20.35 L514.42 20.40 L521.17 20.45 L527.92 20.50 L534.68 20.55 L541.43 20.59 L548.18 20.63 L554.93 20.67 L561.68 20.71 L568.43 20.74 L575.18 20.78 L581.93 20.81 L588.68 20.84 L595.44 20.86 L602.19 20.89 L608.94 20.92 L615.69 20.94 L622.44 20.96 L629.19 20.98 L635.94 21.00 L642.69 21.02 L649.44 21.04 L656.20 21.06" fill="none" stroke="#ff0000" stroke-width="0.85" stroke-dasharray="4 3.2"/>
<path d="M383.15 18.63H389.15M386.15 15.63V21.63" fill="none" stroke="#ff0000" stroke-width="1.0"/>
<path d="M389.90 18.78H395.90M392.90 15.78V21.78" fill="none" stroke="#ff0000" stroke-width="1.0"/>
<path d="M396.65 18.92H402.65M399.65 15.92V21.92" fill="none" stroke="#ff0000" stroke-width="1.0"/>
<path d="M403.40 19.05H409.40M406.40 16.05V22.05" fill="none" stroke="#ff0000" stroke-width="1.0"/>
<path d="M410.16 19.17H416.16M413.16 16.17V22.17" fill="none" stroke="#ff0000" stroke-width="1.0"/>
<path d="M416.91 19.29H422.91M419.91 16.29V22.29" fill="none" stroke="#ff0000" stroke-width="1.0"/>
<path d="M423.66 19.40H429.66M426.66 16.40V22.40" fill="none" stroke="#ff0000" stroke-width="1.0"/>
<path d="M430.41 19.51H436.41M433.41 16.51V22.51" fill="none" stroke="#ff0000" stroke-width="1.0"/>
<path d="M437.16 19.61H443.16M440.16 16.61V22.61" fill="none" stroke="#ff0000" stroke-width="1.0"/>
<path d="M443.91 19.70H449.91M446.91 16.70V22.70" fill="none" stroke="#ff0000" stroke-width="1.0"/>
<path d="M450.66 19.79H456.66M453.66 16.79V22.79" fill="none" stroke="#ff0000" stroke-width="1.0"/>
<path d="M457.41 19.87H463.41M460.41 16.87V22.87" fill="none" stroke="#ff0000" stroke-width="1.0"/>
<path d="M464.16 19.95H470.16M467.16 16.95V22.95" fill="none" stroke="#ff0000" stroke-width="1.0"/>
<path d="M470.92 20.03H476.92M473.92 17.03V23.03" fill="none" stroke="#ff0000" stroke-width="1.0"/>
<path d="M477.67 20.10H483.67M480.67 17.10V23.10" fill="none" stroke="#ff0000" stroke-width="1.0"/>
<path d="M484.42 20.17H490.42M487.42 17.17V23.17" fill="none" stroke="#ff0000" stroke-width="1.0"/>
<path d="M491.17 20.23H497.17M494.17 17.23V23.23" fill="none" stroke="#ff0000" stroke-width="1.0"/>
<path d="M497.92 20.29H503.92M500.92 17.29V23.29" fill="none" stroke="#ff0000" stroke-width="1.0"/>
<path d="M504.67 20.35H510.67M507.67 17.35V23.35" fill="none" stroke="#ff0000" stroke-width="1.0"/>
<path d="M511.42 20.40H517.42M514.42 17.40V23.40" fill="none" stroke="#ff0000" stroke-width="1.0"/>
<path d="M518.17 20.45H524.17M521.17 17.45V23.45" fill="none" stroke="#ff0000" stroke-width="1.0"/>
<path d="M524.92 20.50H530.92M527.92 17.50V23.50" fill="none" stroke="#ff0000" stroke-width="1.0"/>
<path d="M531.68 20.55H537.68M534.68 17.55V23.55" fill="none" stroke="#ff0000" stroke-width="1.0"/>
<path d="M538.43 20.59H544.43M541.43 17.59V23.59" fill="none" stroke="#ff0000" stroke-width="1.0"/>
<path d="M545.18 20.63H551.18M548.18 17.63V23.63" fill="none" stroke="#ff0000" stroke-width="1.0"/>
<path d="M551.93 20.67H557.93M554.93 17.67V23.67" fill="none" stroke="#ff0000" stroke-width="1.0"/>
<path d="M558.68 20.71H564.68M561.68 17.71V23.71" fill="none" stroke="#ff0000" stroke-width="1.0"/>
<path d="M565.43 20.74H571.43M568.43 17.74V23.74" fill="none" stroke="#ff0000" stroke-width="1.0"/>
<path d="M572.18 20.78H578.18M575.18 17.78V23.78" fill="none" stroke="#ff0000" stroke-width="1.0"/>
<path d="M578.93 20.81H584.93M581.93 17.81V23.81" fill="none" stroke="#ff0000" stroke-width="1.0"/>
<path d="M585.68 20.84H591.68M588.68 17.84V23.84" fill="none" stroke="#ff0000" stroke-width="1.0"/>
<path d="M592.44 20.86H598.44M595.44 17.86V23.86" fill="none" stroke="#ff0000" stroke-width="1.0"/>
<path d="M599.19 20.89H605.19M602.19 17.89V23.89" fill="none" stroke="#ff0000" stroke-width="1.0"/>
<path d="M605.94 20.92H611.94M608.94 17.92V23.92" fill="none" stroke="#ff0000" stroke-width="1.0"/>
<path d="M612.69 20.94H618.69M615.69 17.94V23.94" fill="none" stroke="#ff0000" stroke-width="1.0"/>
<path d="M619.44 20.96H625.44M622.44 17.96V23.96" fill="none" stroke="#ff0000" stroke-width="1.0"/>
<path d="M626.19 20.98H632.19M629.19 17.98V23.98" fill="none" stroke="#ff0000" stroke-width="1.0"/>
<path d="M632.94 21.00H638.94M635.94 18.00V24.00" fill="none" stroke="#ff0000" stroke-width="1.0"/>
<path d="M639.69 21.02H645.69M642.69 18.02V24.02" fill="none" stroke="#ff0000" stroke-width="1.0"/>
<path d="M646.44 21.04H652.44M649.44 18.04V24.04" fill="none" stroke="#ff0000" stroke-width="1.0"/>
<path d="M653.20 21.06H659.20M656.20 18.06V24.06" fill="none" stroke="#ff0000" stroke-width="1.0"/>
<path d="M386.15 65.56 L392.90 65.56 L399.65 65.56 L406.40 65.56 L413.16 65.56 L419.91 65.56 L426.66 65.56 L433.41 65.56 L440.16 65.56 L446.91 65.56 L453.66 65.56 L460.41 65.56 L467.16 65.56 L473.92 65.56 L480.67 65.56 L487.42 65.56 L494.17 65.56 L500.92 65.56 L507.67 65.56 L514.42 65.56 L521.17 65.56 L527.92 65.56 L534.68 65.56 L541.43 65.56 L548.18 65.56 L554.93 65.56 L561.68 65.56 L568.43 65.56 L575.18 65.56 L581.93 65.56 L588.68 65.56 L595.44 65.56 L602.19 65.56 L608.94 65.56 L615.69 65.56 L622.44 65.56 L629.19 65.56 L635.94 65.56 L642.69 65.56 L649.44 65.56 L656.20 65.56" fill="none" stroke="#00ffff" stroke-width="0.85" stroke-dasharray="4 3.2"/>
<polygon points="382.90,63.66 389.40,63.66 386.15,69.31" fill="none" stroke="#00ffff" stroke-width="1.0"/>
<polygon points="389.65,63.66 396.15,63.66 392.90,69.31" fill="none" stroke="#00ffff" stroke-width="1.0"/>
<polygon points="396.40,63.66 402.90,63.66 399.65,69.31" fill="none" stroke="#00ffff" stroke-width="1.0"/>
<polygon points="403.15,63.66 409.65,63.66 406.40,69.31" fill="none" stroke="#00ffff" stroke-width="1.0"/>
<polygon points="409.91,63.66 416.41,63.66 413.16,69.31" fill="none" stroke="#00ffff" stroke-width="1.0"/>
<polygon points="416.66,63.66 423.16,63.66 419.91,69.31" fill="none" stroke="#00ffff" stroke-width="1.0"/>
<polygon points="423.41,63.66 429.91,63.66 426.66,69.31" fill="none" stroke="#00ffff" stroke-width="1.0"/>
<polygon points="430.16,63.66 436.66,63.66 433.41,69.31" fill="none" stroke="#00ffff" stroke-width="1.0"/>
<polygon points="436.91,63.66 443.41,63.66 440.16,69.31" fill="none" stroke="#00ffff" stroke-width="1.0"/>
<polygon points="443.66,63.66 450.16,63.66 446.91,69.31" fill="none" stroke="#00ffff" stroke-width="1.0"/>
<polygon points="450.41,63.66 456.91,63.66 453.66,69.31" fill="none" stroke="#00ffff" stroke-width="1.0"/>
<polygon points="457.16,63.66 463.66,63.66 460.41,69.31" fill="none" stroke="#00ffff" stroke-width="1.0"/>
<polygon points="463.91,63.66 470.41,63.66 467.16,69.31" fill="none" stroke="#00ffff" stroke-width="1.0"/>
<polygon points="470.67,63.66 477.17,63.66 473.92,69.31" fill="none" stroke="#00ffff" stroke-width="1.0"/>
<polygon points="477.42,63.66 483.92,63.66 480.67,69.31" fill="none" stroke="#00ffff" stroke-width="1.0"/>
<polygon points="484.17,63.66 490.67,63.66 487.42,69.31" fill="none" stroke="#00ffff" stroke-width="1.0"/>
<polygon points="490.92,63.66 497.42,63.66 494.17,69.31" fill="none" stroke="#00ffff" stroke-width="1.0"/>
<polygon points="497.67,63.66 504.17,63.66 500.92,69.31" fill="none" stroke="#00ffff" stroke-width="1.0"/>
<polygon points="504.42,63.66 510.92,63.66 507.67,69.31" fill="none" stroke="#00ffff" stroke-width="1.0"/>
<polygon points="511.17,63.66 517.67,63.66 514.42,69.31" fill="none" stroke="#00ffff" stroke-width="1.0"/>
<polygon points="517.92,63.66 524.42,63.66 521.17,69.31" fill="none" stroke="#00ffff" stroke-width="1.0"/>
<polygon points="524.67,63.66 531.17,63.66 527.92,69.31" fill="none" stroke="#00ffff" stroke-width="1.0"/>
<polygon points="531.43,63.66 537.93,63.66 534.68,69.31" fill="none" stroke="#00ffff" stroke-width="1.0"/>
<polygon points="538.18,63.66 544.68,63.66 541.43,69.31" fill="none" stroke="#00ffff" stroke-width="1.0"/>
<polygon points="544.93,63.66 551.43,63.66 548.18,69.31" fill="none" stroke="#00ffff" stroke-width="1.0"/>
<polygon points="551.68,63.66 558.18,63.66 554.93,69.31" fill="none" stroke="#00ffff" stroke-width="1.0"/>
<polygon points="558.43,63.66 564.93,63.66 561.68,69.31" fill="none" stroke="#00ffff" stroke-width="1.0"/>
<polygon points="565.18,63.66 571.68,63.66 568.43,69.31" fill="none" stroke="#00ffff" stroke-width="1.0"/>
<polygon points="571.93,63.66 578.43,63.66 575.18,69.31" fill="none" stroke="#00ffff" stroke-width="1.0"/>
<polygon points="578.68,63.66 585.18,63.66 581.93,69.31" fill="none" stroke="#00ffff" stroke-width="1.0"/>
<polygon points="585.43,63.66 591.93,63.66 588.68,69.31" fill="none" stroke="#00ffff" stroke-width="1.0"/>
<polygon points="592.19,63.66 598.69,63.66 595.44,69.31" fill="none" stroke="#00ffff" stroke-width="1.0"/>
<polygon points="598.94,63.66 605.44,63.66 602.19,69.31" fill="none" stroke="#00ffff" stroke-width="1.0"/>
<polygon points="605.69,63.66 612.19,63.66 608.94,69.31" fill="none" stroke="#00ffff" stroke-width="1.0"/>
<polygon points="612.44,63.66 618.94,63.66 615.69,69.31" fill="none" stroke="#00ffff" stroke-width="1.0"/>
<polygon points="619.19,63.66 625.69,63.66 622.44,69.31" fill="none" stroke="#00ffff" stroke-width="1.0"/>
<polygon points="625.94,63.66 632.44,63.66 629.19,69.31" fill="none" stroke="#00ffff" stroke-width="1.0"/>
<polygon points="632.69,63.66 639.19,63.66 635.94,69.31" fill="none" stroke="#00ffff" stroke-width="1.0"/>
<polygon points="639.44,63.66 645.94,63.66 642.69,69.31" fill="none" stroke="#00ffff" stroke-width="1.0"/>
<polygon points="646.19,63.66 652.69,63.66 649.44,69.31" fill="none" stroke="#00ffff" stroke-width="1.0"/>
<polygon points="652.95,63.66 659.45,63.66 656.20,69.31" fill="none" stroke="#00ffff" stroke-width="1.0"/>
</g>
<rect x="379.40" y="4.45" width="303.80" height="238.70" fill="none" stroke="#7c7c7c" stroke-width="1.15"/>
<text x="379.40" y="256.8" text-anchor="middle" font-size="9.2">60</text>
<text x="446.91" y="256.8" text-anchor="middle" font-size="9.2">70</text>
<text x="514.42" y="256.8" text-anchor="middle" font-size="9.2">80</text>
<text x="581.93" y="256.8" text-anchor="middle" font-size="9.2">90</text>
<text x="649.44" y="256.8" text-anchor="middle" font-size="9.2">100</text>
<text x="375.20" y="246.45" text-anchor="end" font-size="9.2">700</text>
<text x="375.20" y="198.71" text-anchor="end" font-size="9.2">750</text>
<text x="375.20" y="150.97" text-anchor="end" font-size="9.2">800</text>
<text x="375.20" y="103.23" text-anchor="end" font-size="9.2">850</text>
<text x="375.20" y="55.49" text-anchor="end" font-size="9.2">900</text>
<text x="375.20" y="7.75" text-anchor="end" font-size="9.2">950</text>
<path d="M379.40 243.15v-3.00M379.40 4.45v3.00M446.91 243.15v-3.00M446.91 4.45v3.00M514.42 243.15v-3.00M514.42 4.45v3.00M581.93 243.15v-3.00M581.93 4.45v3.00M649.44 243.15v-3.00M649.44 4.45v3.00M379.40 243.15h3.00M683.20 243.15h-3.00M379.40 195.41h3.00M683.20 195.41h-3.00M379.40 147.67h3.00M683.20 147.67h-3.00M379.40 99.93h3.00M683.20 99.93h-3.00M379.40 52.19h3.00M683.20 52.19h-3.00M379.40 4.45h3.00M683.20 4.45h-3.00" stroke="#7c7c7c" stroke-width="1.15" fill="none"/>
<text x="531.30" y="269.9" text-anchor="middle" font-size="10.5">(b)</text>
<rect x="594.60" y="11.20" width="81.60" height="71.40" fill="#fff" stroke="#7c7c7c" stroke-width="1.15"/>
<path d="M597.50 18.35H625.50" stroke="#ffff00" stroke-width="0.85"/>
<polygon points="609.60,15.10 609.60,21.60 615.25,18.35" fill="none" stroke="#ffff00" stroke-width="1.0"/>
<text x="628.20" y="21.25" font-size="8.3" fill="#000">HCOA</text>
<path d="M597.50 29.82H625.50" stroke="#000000" stroke-width="0.85"/>
<polygon points="611.50,25.92 614.40,29.82 611.50,33.72 608.60,29.82" fill="none" stroke="#000000" stroke-width="1.0"/>
<text x="628.20" y="32.72" font-size="8.3" fill="#000">BBPSO</text>
<path d="M597.50 41.29H625.50" stroke="#00ff00" stroke-width="0.85"/>
<circle cx="611.50" cy="41.29" r="2.9" fill="none" stroke="#00ff00" stroke-width="1.0"/>
<text x="628.20" y="44.19" font-size="8.3" fill="#000">PBBPSO</text>
<path d="M597.50 52.76H625.50" stroke="#0000ff" stroke-width="0.85"/>
<path d="M608.50 52.76H614.50M611.50 49.76V55.76M609.40 50.66L613.60 54.86M609.40 54.86L613.60 50.66" fill="none" stroke="#0000ff" stroke-width="1.0"/>
<text x="628.20" y="55.66" font-size="8.3" fill="#000">DLSBBPSO</text>
<path d="M597.50 64.23H625.50" stroke="#ff0000" stroke-width="0.85" stroke-dasharray="4 3.2"/>
<path d="M608.50 64.23H614.50M611.50 61.23V67.23" fill="none" stroke="#ff0000" stroke-width="1.0"/>
<text x="628.20" y="67.13" font-size="8.3" fill="#000">TBBPSO</text>
<path d="M597.50 75.70H625.50" stroke="#00ffff" stroke-width="0.85" stroke-dasharray="4 3.2"/>
<polygon points="608.25,73.80 614.75,73.80 611.50,79.45" fill="none" stroke="#00ffff" stroke-width="1.0"/>
<text x="628.20" y="78.60" font-size="8.3" fill="#000">ETBBPSO</text>
</g></svg>
</body></html>
